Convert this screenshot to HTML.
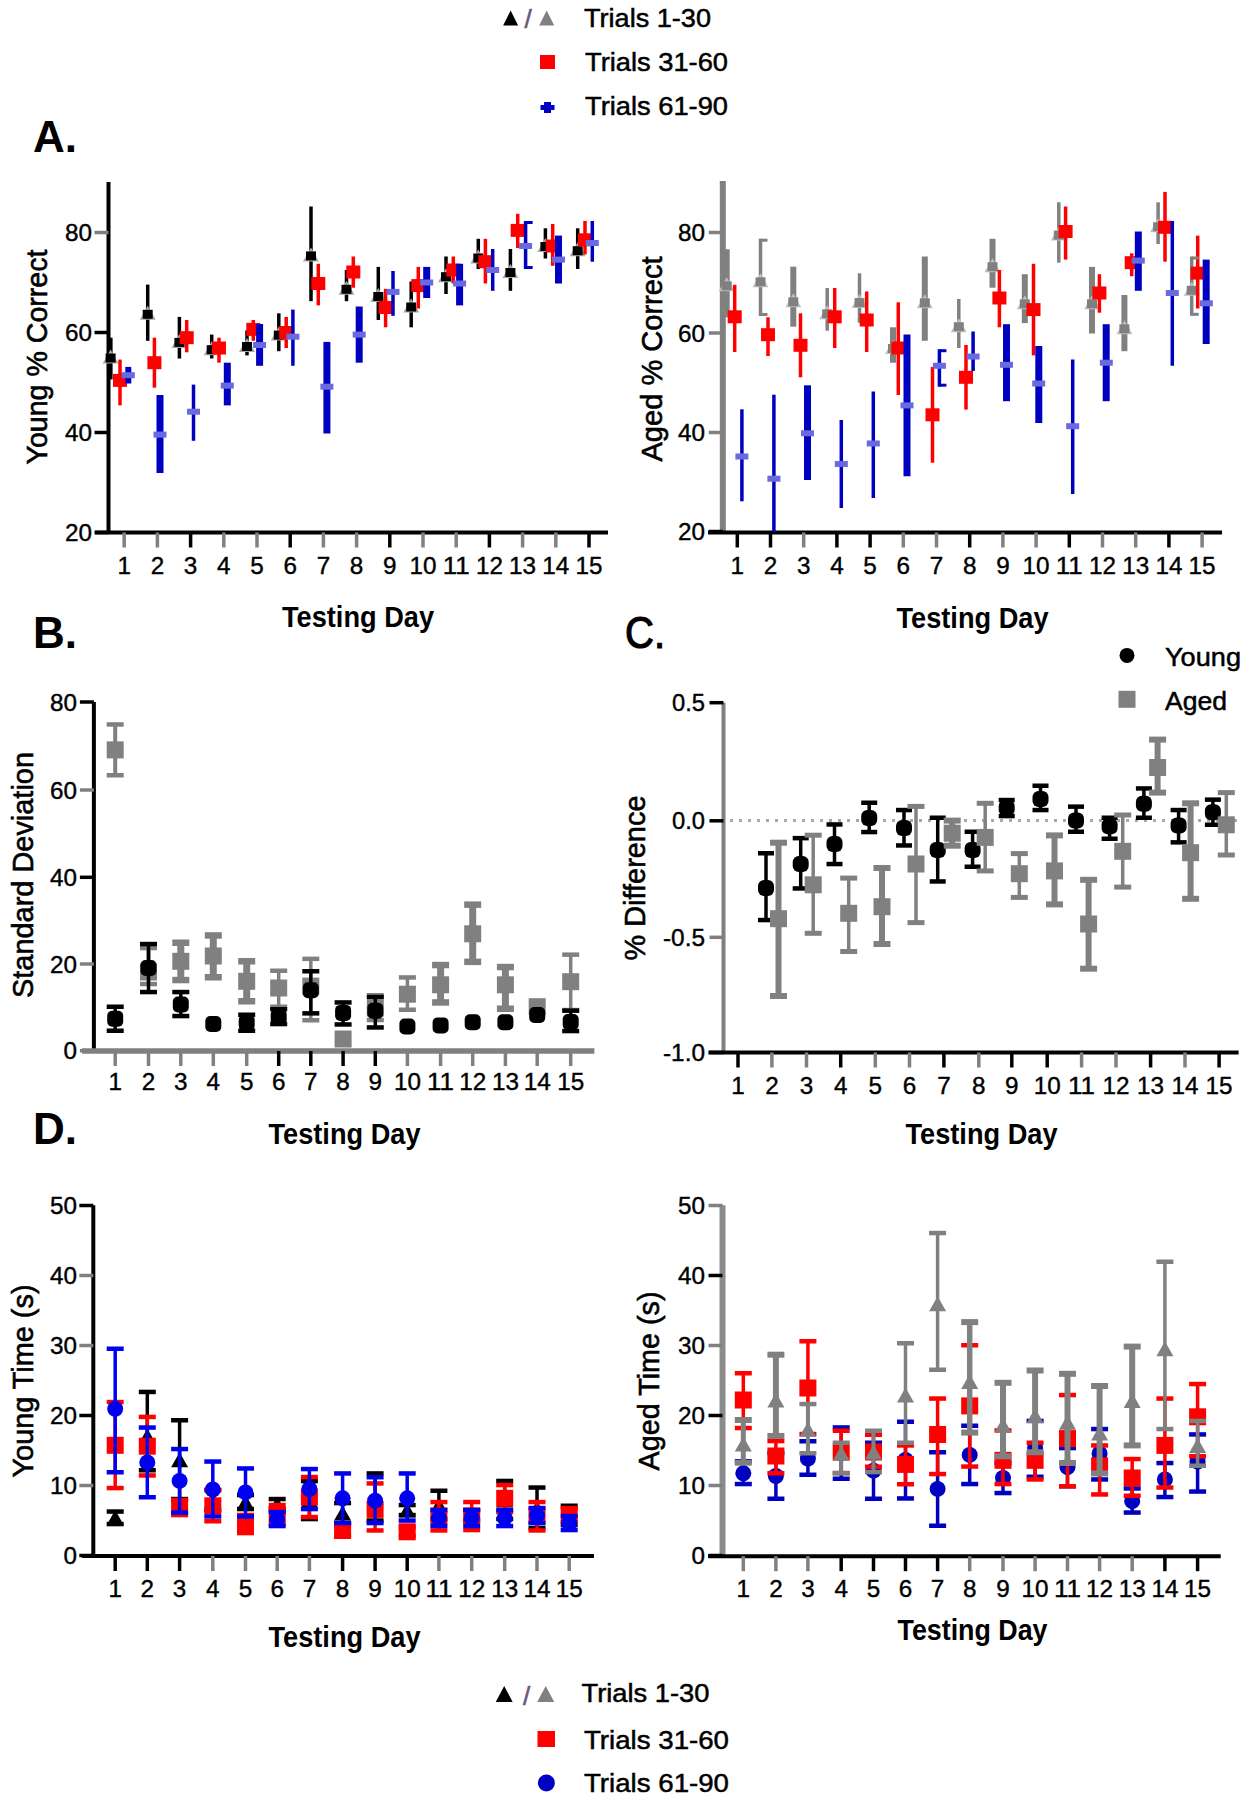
<!DOCTYPE html><html><head><meta charset="utf-8"><style>html,body{margin:0;padding:0;background:#fff;width:1249px;height:1800px;overflow:hidden}</style></head><body><svg width="1249" height="1800" viewBox="0 0 1249 1800" style="display:block">
<g font-family="Liberation Sans, sans-serif">
<rect x="0.0" y="0.0" width="1249.0" height="1800.0" fill="#fff"/>
<polygon points="503.1,25.5 518.1,25.5 510.6,10.5" fill="#000"/>
<text x="528.0" y="28.0" font-size="26" font-weight="normal" text-anchor="middle" fill="#6a5a7a" stroke="#6a5a7a" stroke-width="0.6">/</text>
<polygon points="539.2,25.5 554.2,25.5 546.7,10.5" fill="#808080"/>
<text x="584.0" y="27.0" font-size="26" font-weight="normal" text-anchor="start" fill="#000" textLength="127" lengthAdjust="spacingAndGlyphs" stroke="#000" stroke-width="0.5">Trials 1-30</text>
<rect x="540.0" y="55.0" width="15.0" height="14.0" fill="#ff0000"/>
<text x="585.0" y="71.0" font-size="26" font-weight="normal" text-anchor="start" fill="#000" textLength="143" lengthAdjust="spacingAndGlyphs" stroke="#000" stroke-width="0.5">Trials 31-60</text>
<rect x="540.5" y="105.0" width="14.0" height="5.0" fill="#0000c0"/>
<rect x="544.0" y="102.0" width="7.0" height="11.0" fill="#0000c0"/>
<text x="585.0" y="115.0" font-size="26" font-weight="normal" text-anchor="start" fill="#000" textLength="143" lengthAdjust="spacingAndGlyphs" stroke="#000" stroke-width="0.5">Trials 61-90</text>
<text x="33.0" y="152.0" font-size="44" font-weight="bold" text-anchor="start" fill="#000" >A.</text>
<text x="33.0" y="648.0" font-size="44" font-weight="bold" text-anchor="start" fill="#000" >B.</text>
<text x="625.0" y="648.0" font-size="44" font-weight="normal" text-anchor="start" fill="#000" textLength="40" lengthAdjust="spacingAndGlyphs" stroke="#000" stroke-width="1.2">C.</text>
<text x="33.0" y="1144.0" font-size="44" font-weight="bold" text-anchor="start" fill="#000" >D.</text>
<line x1="108.5" y1="182.0" x2="108.5" y2="534.0" stroke="#000" stroke-width="4"/>
<line x1="94.5" y1="232.5" x2="108.5" y2="232.5" stroke="#808080" stroke-width="3.5"/>
<text x="92.0" y="241.0" font-size="24" font-weight="normal" text-anchor="end" fill="#000" textLength="27" lengthAdjust="spacingAndGlyphs" stroke="#000" stroke-width="0.4">80</text>
<line x1="94.5" y1="332.5" x2="108.5" y2="332.5" stroke="#000" stroke-width="3.5"/>
<text x="92.0" y="341.0" font-size="24" font-weight="normal" text-anchor="end" fill="#000" textLength="27" lengthAdjust="spacingAndGlyphs" stroke="#000" stroke-width="0.4">60</text>
<line x1="94.5" y1="432.5" x2="108.5" y2="432.5" stroke="#000" stroke-width="3.5"/>
<text x="92.0" y="441.0" font-size="24" font-weight="normal" text-anchor="end" fill="#000" textLength="27" lengthAdjust="spacingAndGlyphs" stroke="#000" stroke-width="0.4">40</text>
<line x1="94.5" y1="532.5" x2="108.5" y2="532.5" stroke="#000" stroke-width="3.5"/>
<text x="92.0" y="541.0" font-size="24" font-weight="normal" text-anchor="end" fill="#000" textLength="27" lengthAdjust="spacingAndGlyphs" stroke="#000" stroke-width="0.4">20</text>
<line x1="95.0" y1="532.5" x2="608.0" y2="532.5" stroke="#000" stroke-width="4"/>
<line x1="124.2" y1="532.5" x2="124.2" y2="547.5" stroke="#808080" stroke-width="3.5"/>
<text x="124.2" y="574.0" font-size="24" font-weight="normal" text-anchor="middle" fill="#000" textLength="13.5" lengthAdjust="spacingAndGlyphs" stroke="#000" stroke-width="0.4">1</text>
<line x1="157.4" y1="532.5" x2="157.4" y2="547.5" stroke="#808080" stroke-width="3.5"/>
<text x="157.4" y="574.0" font-size="24" font-weight="normal" text-anchor="middle" fill="#000" textLength="13.5" lengthAdjust="spacingAndGlyphs" stroke="#000" stroke-width="0.4">2</text>
<line x1="190.6" y1="532.5" x2="190.6" y2="547.5" stroke="#000" stroke-width="3.5"/>
<text x="190.6" y="574.0" font-size="24" font-weight="normal" text-anchor="middle" fill="#000" textLength="13.5" lengthAdjust="spacingAndGlyphs" stroke="#000" stroke-width="0.4">3</text>
<line x1="223.8" y1="532.5" x2="223.8" y2="547.5" stroke="#808080" stroke-width="3.5"/>
<text x="223.8" y="574.0" font-size="24" font-weight="normal" text-anchor="middle" fill="#000" textLength="13.5" lengthAdjust="spacingAndGlyphs" stroke="#000" stroke-width="0.4">4</text>
<line x1="257.0" y1="532.5" x2="257.0" y2="547.5" stroke="#808080" stroke-width="3.5"/>
<text x="257.0" y="574.0" font-size="24" font-weight="normal" text-anchor="middle" fill="#000" textLength="13.5" lengthAdjust="spacingAndGlyphs" stroke="#000" stroke-width="0.4">5</text>
<line x1="290.2" y1="532.5" x2="290.2" y2="547.5" stroke="#000" stroke-width="3.5"/>
<text x="290.2" y="574.0" font-size="24" font-weight="normal" text-anchor="middle" fill="#000" textLength="13.5" lengthAdjust="spacingAndGlyphs" stroke="#000" stroke-width="0.4">6</text>
<line x1="323.4" y1="532.5" x2="323.4" y2="547.5" stroke="#808080" stroke-width="3.5"/>
<text x="323.4" y="574.0" font-size="24" font-weight="normal" text-anchor="middle" fill="#000" textLength="13.5" lengthAdjust="spacingAndGlyphs" stroke="#000" stroke-width="0.4">7</text>
<line x1="356.6" y1="532.5" x2="356.6" y2="547.5" stroke="#808080" stroke-width="3.5"/>
<text x="356.6" y="574.0" font-size="24" font-weight="normal" text-anchor="middle" fill="#000" textLength="13.5" lengthAdjust="spacingAndGlyphs" stroke="#000" stroke-width="0.4">8</text>
<line x1="389.8" y1="532.5" x2="389.8" y2="547.5" stroke="#000" stroke-width="3.5"/>
<text x="389.8" y="574.0" font-size="24" font-weight="normal" text-anchor="middle" fill="#000" textLength="13.5" lengthAdjust="spacingAndGlyphs" stroke="#000" stroke-width="0.4">9</text>
<line x1="423.0" y1="532.5" x2="423.0" y2="547.5" stroke="#808080" stroke-width="3.5"/>
<text x="423.0" y="574.0" font-size="24" font-weight="normal" text-anchor="middle" fill="#000" textLength="27" lengthAdjust="spacingAndGlyphs" stroke="#000" stroke-width="0.4">10</text>
<line x1="456.2" y1="532.5" x2="456.2" y2="547.5" stroke="#808080" stroke-width="3.5"/>
<text x="456.2" y="574.0" font-size="24" font-weight="normal" text-anchor="middle" fill="#000" textLength="27" lengthAdjust="spacingAndGlyphs" stroke="#000" stroke-width="0.4">11</text>
<line x1="489.4" y1="532.5" x2="489.4" y2="547.5" stroke="#000" stroke-width="3.5"/>
<text x="489.4" y="574.0" font-size="24" font-weight="normal" text-anchor="middle" fill="#000" textLength="27" lengthAdjust="spacingAndGlyphs" stroke="#000" stroke-width="0.4">12</text>
<line x1="522.6" y1="532.5" x2="522.6" y2="547.5" stroke="#808080" stroke-width="3.5"/>
<text x="522.6" y="574.0" font-size="24" font-weight="normal" text-anchor="middle" fill="#000" textLength="27" lengthAdjust="spacingAndGlyphs" stroke="#000" stroke-width="0.4">13</text>
<line x1="555.8" y1="532.5" x2="555.8" y2="547.5" stroke="#808080" stroke-width="3.5"/>
<text x="555.8" y="574.0" font-size="24" font-weight="normal" text-anchor="middle" fill="#000" textLength="27" lengthAdjust="spacingAndGlyphs" stroke="#000" stroke-width="0.4">14</text>
<line x1="589.0" y1="532.5" x2="589.0" y2="547.5" stroke="#000" stroke-width="3.5"/>
<text x="589.0" y="574.0" font-size="24" font-weight="normal" text-anchor="middle" fill="#000" textLength="27" lengthAdjust="spacingAndGlyphs" stroke="#000" stroke-width="0.4">15</text>
<text x="47.0" y="357.0" font-size="29" font-weight="normal" stroke="#000" stroke-width="0.6" text-anchor="middle" textLength="215" lengthAdjust="spacingAndGlyphs" transform="rotate(-90 47.0 357.0)">Young % Correct</text>
<text x="358.0" y="627.0" font-size="29" font-weight="bold" text-anchor="middle" fill="#000" textLength="152" lengthAdjust="spacingAndGlyphs" >Testing Day</text>
<line x1="110.6" y1="337.7" x2="110.6" y2="379.4" stroke="#000" stroke-width="4"/>
<line x1="147.7" y1="284.6" x2="147.7" y2="340.8" stroke="#000" stroke-width="3.5"/>
<line x1="179.4" y1="316.9" x2="179.4" y2="358.5" stroke="#000" stroke-width="3.5"/>
<line x1="211.7" y1="334.6" x2="211.7" y2="358.5" stroke="#000" stroke-width="3.5"/>
<line x1="247.0" y1="330.4" x2="247.0" y2="355.4" stroke="#000" stroke-width="3.5"/>
<line x1="278.8" y1="313.3" x2="278.8" y2="351.2" stroke="#000" stroke-width="3.5"/>
<line x1="311.0" y1="206.5" x2="311.0" y2="301.2" stroke="#000" stroke-width="3.5"/>
<line x1="346.5" y1="270.0" x2="346.5" y2="301.2" stroke="#000" stroke-width="3.5"/>
<line x1="378.3" y1="266.9" x2="378.3" y2="320.0" stroke="#000" stroke-width="3.5"/>
<line x1="411.2" y1="281.5" x2="411.2" y2="327.3" stroke="#000" stroke-width="3.5"/>
<line x1="446.0" y1="256.5" x2="446.0" y2="294.0" stroke="#000" stroke-width="3.5"/>
<line x1="478.3" y1="238.8" x2="478.3" y2="269.0" stroke="#000" stroke-width="3.5"/>
<line x1="510.4" y1="249.0" x2="510.4" y2="290.8" stroke="#000" stroke-width="3.5"/>
<line x1="545.4" y1="228.3" x2="545.4" y2="258.5" stroke="#000" stroke-width="3.5"/>
<line x1="577.7" y1="228.3" x2="577.7" y2="269.0" stroke="#000" stroke-width="3.5"/>
<polygon points="102.6,363.5 118.6,363.5 110.6,349.5" fill="#a8a8a8"/>
<rect x="105.6" y="353.5" width="10.0" height="9.0" fill="#000"/>
<polygon points="139.7,319.8 155.7,319.8 147.7,305.8" fill="#a8a8a8"/>
<rect x="142.7" y="309.8" width="10.0" height="9.0" fill="#000"/>
<polygon points="171.4,347.9 187.4,347.9 179.4,333.9" fill="#a8a8a8"/>
<rect x="174.4" y="337.9" width="10.0" height="9.0" fill="#000"/>
<polygon points="203.7,355.2 219.7,355.2 211.7,341.2" fill="#a8a8a8"/>
<rect x="206.7" y="345.2" width="10.0" height="9.0" fill="#000"/>
<polygon points="239.0,352.0 255.0,352.0 247.0,338.0" fill="#a8a8a8"/>
<rect x="242.0" y="342.0" width="10.0" height="9.0" fill="#000"/>
<polygon points="270.8,340.6 286.8,340.6 278.8,326.6" fill="#a8a8a8"/>
<rect x="273.8" y="330.6" width="10.0" height="9.0" fill="#000"/>
<polygon points="303.0,261.4 319.0,261.4 311.0,247.4" fill="#a8a8a8"/>
<rect x="306.0" y="251.4" width="10.0" height="9.0" fill="#000"/>
<polygon points="338.5,294.8 354.5,294.8 346.5,280.8" fill="#a8a8a8"/>
<rect x="341.5" y="284.8" width="10.0" height="9.0" fill="#000"/>
<polygon points="370.3,302.0 386.3,302.0 378.3,288.0" fill="#a8a8a8"/>
<rect x="373.3" y="292.0" width="10.0" height="9.0" fill="#000"/>
<polygon points="403.2,312.5 419.2,312.5 411.2,298.5" fill="#a8a8a8"/>
<rect x="406.2" y="302.5" width="10.0" height="9.0" fill="#000"/>
<polygon points="438.0,282.2 454.0,282.2 446.0,268.2" fill="#a8a8a8"/>
<rect x="441.0" y="272.2" width="10.0" height="9.0" fill="#000"/>
<polygon points="470.3,263.5 486.3,263.5 478.3,249.5" fill="#a8a8a8"/>
<rect x="473.3" y="253.5" width="10.0" height="9.0" fill="#000"/>
<polygon points="502.4,278.0 518.4,278.0 510.4,264.0" fill="#a8a8a8"/>
<rect x="505.4" y="268.0" width="10.0" height="9.0" fill="#000"/>
<polygon points="537.4,252.0 553.4,252.0 545.4,238.0" fill="#a8a8a8"/>
<rect x="540.4" y="242.0" width="10.0" height="9.0" fill="#000"/>
<polygon points="569.7,256.2 585.7,256.2 577.7,242.2" fill="#a8a8a8"/>
<rect x="572.7" y="246.2" width="10.0" height="9.0" fill="#000"/>
<line x1="120.0" y1="359.6" x2="120.0" y2="405.4" stroke="#ff0000" stroke-width="3.5"/>
<line x1="154.4" y1="337.7" x2="154.4" y2="387.7" stroke="#ff0000" stroke-width="3.5"/>
<line x1="186.7" y1="320.0" x2="186.7" y2="352.3" stroke="#ff0000" stroke-width="3.5"/>
<line x1="219.0" y1="337.7" x2="219.0" y2="362.7" stroke="#ff0000" stroke-width="3.5"/>
<line x1="253.3" y1="320.0" x2="253.3" y2="340.8" stroke="#ff0000" stroke-width="3.5"/>
<line x1="286.2" y1="316.9" x2="286.2" y2="348.0" stroke="#ff0000" stroke-width="3.5"/>
<line x1="318.3" y1="263.8" x2="318.3" y2="305.4" stroke="#ff0000" stroke-width="3.5"/>
<line x1="353.3" y1="256.5" x2="353.3" y2="287.7" stroke="#ff0000" stroke-width="3.5"/>
<line x1="385.6" y1="288.8" x2="385.6" y2="327.3" stroke="#ff0000" stroke-width="3.5"/>
<line x1="418.3" y1="266.9" x2="418.3" y2="308.5" stroke="#ff0000" stroke-width="3.5"/>
<line x1="453.3" y1="256.5" x2="453.3" y2="283.5" stroke="#ff0000" stroke-width="3.5"/>
<line x1="485.4" y1="238.8" x2="485.4" y2="283.5" stroke="#ff0000" stroke-width="3.5"/>
<line x1="517.7" y1="213.8" x2="517.7" y2="248.0" stroke="#ff0000" stroke-width="3.5"/>
<line x1="552.7" y1="224.0" x2="552.7" y2="265.8" stroke="#ff0000" stroke-width="3.5"/>
<line x1="585.0" y1="221.0" x2="585.0" y2="254.4" stroke="#ff0000" stroke-width="3.5"/>
<rect x="113.0" y="373.9" width="14.0" height="13.0" fill="#ff0000"/>
<rect x="147.4" y="356.2" width="14.0" height="13.0" fill="#ff0000"/>
<rect x="179.7" y="331.2" width="14.0" height="13.0" fill="#ff0000"/>
<rect x="212.0" y="341.5" width="14.0" height="13.0" fill="#ff0000"/>
<rect x="246.3" y="322.9" width="14.0" height="13.0" fill="#ff0000"/>
<rect x="279.2" y="326.0" width="14.0" height="13.0" fill="#ff0000"/>
<rect x="311.3" y="277.0" width="14.0" height="13.0" fill="#ff0000"/>
<rect x="346.3" y="265.5" width="14.0" height="13.0" fill="#ff0000"/>
<rect x="378.6" y="301.0" width="14.0" height="13.0" fill="#ff0000"/>
<rect x="411.3" y="279.1" width="14.0" height="13.0" fill="#ff0000"/>
<rect x="446.3" y="263.5" width="14.0" height="13.0" fill="#ff0000"/>
<rect x="478.4" y="255.2" width="14.0" height="13.0" fill="#ff0000"/>
<rect x="510.7" y="223.9" width="14.0" height="13.0" fill="#ff0000"/>
<rect x="545.7" y="239.5" width="14.0" height="13.0" fill="#ff0000"/>
<rect x="578.0" y="233.3" width="14.0" height="13.0" fill="#ff0000"/>
<line x1="128.3" y1="366.9" x2="128.3" y2="383.5" stroke="#0000c0" stroke-width="6"/>
<line x1="160.0" y1="395.0" x2="160.0" y2="473.0" stroke="#0000c0" stroke-width="7"/>
<line x1="193.5" y1="384.6" x2="193.5" y2="440.8" stroke="#0000c0" stroke-width="3.5"/>
<line x1="227.3" y1="362.7" x2="227.3" y2="405.4" stroke="#0000c0" stroke-width="7"/>
<line x1="259.6" y1="324.0" x2="259.6" y2="365.8" stroke="#0000c0" stroke-width="7"/>
<line x1="292.9" y1="309.6" x2="292.9" y2="365.8" stroke="#0000c0" stroke-width="3.5"/>
<line x1="326.9" y1="341.9" x2="326.9" y2="433.5" stroke="#0000c0" stroke-width="7"/>
<line x1="359.2" y1="306.5" x2="359.2" y2="362.7" stroke="#0000c0" stroke-width="7"/>
<line x1="393.0" y1="271.0" x2="393.0" y2="315.8" stroke="#0000c0" stroke-width="3.5"/>
<line x1="426.7" y1="266.9" x2="426.7" y2="298.0" stroke="#0000c0" stroke-width="7"/>
<line x1="459.6" y1="263.8" x2="459.6" y2="305.4" stroke="#0000c0" stroke-width="7"/>
<line x1="492.7" y1="249.0" x2="492.7" y2="290.8" stroke="#0000c0" stroke-width="3.5"/>
<line x1="525.6" y1="221.0" x2="525.6" y2="269.0" stroke="#0000c0" stroke-width="3.5"/>
<line x1="558.5" y1="235.6" x2="558.5" y2="283.5" stroke="#0000c0" stroke-width="7"/>
<line x1="592.3" y1="221.0" x2="592.3" y2="261.7" stroke="#0000c0" stroke-width="3.5"/>
<rect x="121.8" y="372.2" width="13.0" height="6.0" fill="#6a6ae0"/>
<rect x="153.5" y="431.6" width="13.0" height="6.0" fill="#6a6ae0"/>
<rect x="187.0" y="408.7" width="13.0" height="6.0" fill="#6a6ae0"/>
<rect x="220.8" y="382.6" width="13.0" height="6.0" fill="#6a6ae0"/>
<rect x="253.1" y="342.0" width="13.0" height="6.0" fill="#6a6ae0"/>
<rect x="286.4" y="333.7" width="13.0" height="6.0" fill="#6a6ae0"/>
<rect x="320.4" y="383.7" width="13.0" height="6.0" fill="#6a6ae0"/>
<rect x="352.7" y="331.6" width="13.0" height="6.0" fill="#6a6ae0"/>
<rect x="386.5" y="288.9" width="13.0" height="6.0" fill="#6a6ae0"/>
<rect x="420.2" y="279.5" width="13.0" height="6.0" fill="#6a6ae0"/>
<rect x="453.1" y="280.5" width="13.0" height="6.0" fill="#6a6ae0"/>
<rect x="486.2" y="267.0" width="13.0" height="6.0" fill="#6a6ae0"/>
<rect x="519.1" y="243.0" width="13.0" height="6.0" fill="#6a6ae0"/>
<rect x="552.0" y="256.6" width="13.0" height="6.0" fill="#6a6ae0"/>
<rect x="585.8" y="240.0" width="13.0" height="6.0" fill="#6a6ae0"/>
<line x1="722.8" y1="181.0" x2="722.8" y2="534.0" stroke="#808080" stroke-width="6"/>
<line x1="708.8" y1="232.5" x2="722.8" y2="232.5" stroke="#808080" stroke-width="3.5"/>
<text x="705.0" y="241.0" font-size="24" font-weight="normal" text-anchor="end" fill="#000" textLength="27" lengthAdjust="spacingAndGlyphs" stroke="#000" stroke-width="0.4">80</text>
<line x1="708.8" y1="333.0" x2="722.8" y2="333.0" stroke="#808080" stroke-width="3.5"/>
<text x="705.0" y="341.5" font-size="24" font-weight="normal" text-anchor="end" fill="#000" textLength="27" lengthAdjust="spacingAndGlyphs" stroke="#000" stroke-width="0.4">60</text>
<line x1="708.8" y1="432.5" x2="722.8" y2="432.5" stroke="#808080" stroke-width="3.5"/>
<text x="705.0" y="441.0" font-size="24" font-weight="normal" text-anchor="end" fill="#000" textLength="27" lengthAdjust="spacingAndGlyphs" stroke="#000" stroke-width="0.4">40</text>
<line x1="708.8" y1="531.5" x2="722.8" y2="531.5" stroke="#000" stroke-width="3.5"/>
<text x="705.0" y="540.0" font-size="24" font-weight="normal" text-anchor="end" fill="#000" textLength="27" lengthAdjust="spacingAndGlyphs" stroke="#000" stroke-width="0.4">20</text>
<line x1="708.0" y1="532.5" x2="1222.0" y2="532.5" stroke="#000" stroke-width="4"/>
<line x1="737.3" y1="532.5" x2="737.3" y2="547.5" stroke="#000" stroke-width="3.5"/>
<text x="737.3" y="574.0" font-size="24" font-weight="normal" text-anchor="middle" fill="#000" textLength="13.5" lengthAdjust="spacingAndGlyphs" stroke="#000" stroke-width="0.4">1</text>
<line x1="770.5" y1="532.5" x2="770.5" y2="547.5" stroke="#000" stroke-width="3.5"/>
<text x="770.5" y="574.0" font-size="24" font-weight="normal" text-anchor="middle" fill="#000" textLength="13.5" lengthAdjust="spacingAndGlyphs" stroke="#000" stroke-width="0.4">2</text>
<line x1="803.7" y1="532.5" x2="803.7" y2="547.5" stroke="#808080" stroke-width="3.5"/>
<text x="803.7" y="574.0" font-size="24" font-weight="normal" text-anchor="middle" fill="#000" textLength="13.5" lengthAdjust="spacingAndGlyphs" stroke="#000" stroke-width="0.4">3</text>
<line x1="836.9" y1="532.5" x2="836.9" y2="547.5" stroke="#000" stroke-width="3.5"/>
<text x="836.9" y="574.0" font-size="24" font-weight="normal" text-anchor="middle" fill="#000" textLength="13.5" lengthAdjust="spacingAndGlyphs" stroke="#000" stroke-width="0.4">4</text>
<line x1="870.1" y1="532.5" x2="870.1" y2="547.5" stroke="#000" stroke-width="3.5"/>
<text x="870.1" y="574.0" font-size="24" font-weight="normal" text-anchor="middle" fill="#000" textLength="13.5" lengthAdjust="spacingAndGlyphs" stroke="#000" stroke-width="0.4">5</text>
<line x1="903.3" y1="532.5" x2="903.3" y2="547.5" stroke="#808080" stroke-width="3.5"/>
<text x="903.3" y="574.0" font-size="24" font-weight="normal" text-anchor="middle" fill="#000" textLength="13.5" lengthAdjust="spacingAndGlyphs" stroke="#000" stroke-width="0.4">6</text>
<line x1="936.5" y1="532.5" x2="936.5" y2="547.5" stroke="#808080" stroke-width="3.5"/>
<text x="936.5" y="574.0" font-size="24" font-weight="normal" text-anchor="middle" fill="#000" textLength="13.5" lengthAdjust="spacingAndGlyphs" stroke="#000" stroke-width="0.4">7</text>
<line x1="969.7" y1="532.5" x2="969.7" y2="547.5" stroke="#000" stroke-width="3.5"/>
<text x="969.7" y="574.0" font-size="24" font-weight="normal" text-anchor="middle" fill="#000" textLength="13.5" lengthAdjust="spacingAndGlyphs" stroke="#000" stroke-width="0.4">8</text>
<line x1="1002.9" y1="532.5" x2="1002.9" y2="547.5" stroke="#808080" stroke-width="3.5"/>
<text x="1002.9" y="574.0" font-size="24" font-weight="normal" text-anchor="middle" fill="#000" textLength="13.5" lengthAdjust="spacingAndGlyphs" stroke="#000" stroke-width="0.4">9</text>
<line x1="1036.1" y1="532.5" x2="1036.1" y2="547.5" stroke="#808080" stroke-width="3.5"/>
<text x="1036.1" y="574.0" font-size="24" font-weight="normal" text-anchor="middle" fill="#000" textLength="27" lengthAdjust="spacingAndGlyphs" stroke="#000" stroke-width="0.4">10</text>
<line x1="1069.3" y1="532.5" x2="1069.3" y2="547.5" stroke="#000" stroke-width="3.5"/>
<text x="1069.3" y="574.0" font-size="24" font-weight="normal" text-anchor="middle" fill="#000" textLength="27" lengthAdjust="spacingAndGlyphs" stroke="#000" stroke-width="0.4">11</text>
<line x1="1102.5" y1="532.5" x2="1102.5" y2="547.5" stroke="#808080" stroke-width="3.5"/>
<text x="1102.5" y="574.0" font-size="24" font-weight="normal" text-anchor="middle" fill="#000" textLength="27" lengthAdjust="spacingAndGlyphs" stroke="#000" stroke-width="0.4">12</text>
<line x1="1135.7" y1="532.5" x2="1135.7" y2="547.5" stroke="#808080" stroke-width="3.5"/>
<text x="1135.7" y="574.0" font-size="24" font-weight="normal" text-anchor="middle" fill="#000" textLength="27" lengthAdjust="spacingAndGlyphs" stroke="#000" stroke-width="0.4">13</text>
<line x1="1168.9" y1="532.5" x2="1168.9" y2="547.5" stroke="#000" stroke-width="3.5"/>
<text x="1168.9" y="574.0" font-size="24" font-weight="normal" text-anchor="middle" fill="#000" textLength="27" lengthAdjust="spacingAndGlyphs" stroke="#000" stroke-width="0.4">14</text>
<line x1="1202.1" y1="532.5" x2="1202.1" y2="547.5" stroke="#808080" stroke-width="3.5"/>
<text x="1202.1" y="574.0" font-size="24" font-weight="normal" text-anchor="middle" fill="#000" textLength="27" lengthAdjust="spacingAndGlyphs" stroke="#000" stroke-width="0.4">15</text>
<text x="662.0" y="359.0" font-size="29" font-weight="normal" stroke="#000" stroke-width="0.6" text-anchor="middle" textLength="205" lengthAdjust="spacingAndGlyphs" transform="rotate(-90 662.0 359.0)">Aged % Correct</text>
<text x="972.5" y="627.5" font-size="29" font-weight="bold" text-anchor="middle" fill="#000" textLength="152" lengthAdjust="spacingAndGlyphs" >Testing Day</text>
<line x1="726.7" y1="249.3" x2="726.7" y2="317.3" stroke="#808080" stroke-width="6"/>
<line x1="760.5" y1="238.7" x2="760.5" y2="316.0" stroke="#808080" stroke-width="3.5"/>
<line x1="793.3" y1="266.7" x2="793.3" y2="326.7" stroke="#808080" stroke-width="6"/>
<line x1="827.2" y1="288.0" x2="827.2" y2="330.7" stroke="#808080" stroke-width="3.5"/>
<line x1="859.5" y1="273.3" x2="859.5" y2="322.7" stroke="#808080" stroke-width="3.5"/>
<line x1="893.0" y1="327.3" x2="893.0" y2="362.7" stroke="#808080" stroke-width="6"/>
<line x1="924.8" y1="256.5" x2="924.8" y2="340.8" stroke="#808080" stroke-width="6"/>
<line x1="958.8" y1="299.0" x2="958.8" y2="348.0" stroke="#808080" stroke-width="3.5"/>
<line x1="992.5" y1="238.8" x2="992.5" y2="287.7" stroke="#808080" stroke-width="6"/>
<line x1="1024.8" y1="274.2" x2="1024.8" y2="323.1" stroke="#808080" stroke-width="6"/>
<line x1="1058.8" y1="202.3" x2="1058.8" y2="262.7" stroke="#808080" stroke-width="3.5"/>
<line x1="1092.0" y1="266.9" x2="1092.0" y2="333.5" stroke="#808080" stroke-width="6"/>
<line x1="1124.4" y1="295.0" x2="1124.4" y2="351.2" stroke="#808080" stroke-width="6"/>
<line x1="1158.1" y1="202.3" x2="1158.1" y2="244.0" stroke="#808080" stroke-width="3.5"/>
<line x1="1191.7" y1="256.5" x2="1191.7" y2="315.8" stroke="#808080" stroke-width="3.5"/>
<polygon points="718.7,291.3 734.7,291.3 726.7,277.3" fill="#c0c0c0"/>
<rect x="721.7" y="281.3" width="10.0" height="9.0" fill="#808080"/>
<polygon points="752.5,287.3 768.5,287.3 760.5,273.3" fill="#c0c0c0"/>
<rect x="755.5" y="277.3" width="10.0" height="9.0" fill="#808080"/>
<polygon points="785.3,307.3 801.3,307.3 793.3,293.3" fill="#c0c0c0"/>
<rect x="788.3" y="297.3" width="10.0" height="9.0" fill="#808080"/>
<polygon points="819.2,319.3 835.2,319.3 827.2,305.3" fill="#c0c0c0"/>
<rect x="822.2" y="309.3" width="10.0" height="9.0" fill="#808080"/>
<polygon points="851.5,308.1 867.5,308.1 859.5,294.1" fill="#c0c0c0"/>
<rect x="854.5" y="298.1" width="10.0" height="9.0" fill="#808080"/>
<polygon points="885.0,354.0 901.0,354.0 893.0,340.0" fill="#c0c0c0"/>
<rect x="888.0" y="344.0" width="10.0" height="9.0" fill="#808080"/>
<polygon points="916.8,308.3 932.8,308.3 924.8,294.3" fill="#c0c0c0"/>
<rect x="919.8" y="298.3" width="10.0" height="9.0" fill="#808080"/>
<polygon points="950.8,332.2 966.8,332.2 958.8,318.2" fill="#c0c0c0"/>
<rect x="953.8" y="322.2" width="10.0" height="9.0" fill="#808080"/>
<polygon points="984.5,272.2 1000.5,272.2 992.5,258.2" fill="#c0c0c0"/>
<rect x="987.5" y="262.2" width="10.0" height="9.0" fill="#808080"/>
<polygon points="1016.8,309.3 1032.8,309.3 1024.8,295.3" fill="#c0c0c0"/>
<rect x="1019.8" y="299.3" width="10.0" height="9.0" fill="#808080"/>
<polygon points="1050.8,240.6 1066.8,240.6 1058.8,226.6" fill="#c0c0c0"/>
<rect x="1053.8" y="230.6" width="10.0" height="9.0" fill="#808080"/>
<polygon points="1084.0,309.3 1100.0,309.3 1092.0,295.3" fill="#c0c0c0"/>
<rect x="1087.0" y="299.3" width="10.0" height="9.0" fill="#808080"/>
<polygon points="1116.4,334.3 1132.4,334.3 1124.4,320.3" fill="#c0c0c0"/>
<rect x="1119.4" y="324.3" width="10.0" height="9.0" fill="#808080"/>
<polygon points="1150.1,232.2 1166.1,232.2 1158.1,218.2" fill="#c0c0c0"/>
<rect x="1153.1" y="222.2" width="10.0" height="9.0" fill="#808080"/>
<polygon points="1183.7,295.8 1199.7,295.8 1191.7,281.8" fill="#c0c0c0"/>
<rect x="1186.7" y="285.8" width="10.0" height="9.0" fill="#808080"/>
<line x1="734.7" y1="284.8" x2="734.7" y2="352.0" stroke="#ff0000" stroke-width="3.5"/>
<line x1="768.0" y1="317.3" x2="768.0" y2="356.0" stroke="#ff0000" stroke-width="3.5"/>
<line x1="800.5" y1="313.3" x2="800.5" y2="377.3" stroke="#ff0000" stroke-width="3.5"/>
<line x1="834.7" y1="288.0" x2="834.7" y2="348.0" stroke="#ff0000" stroke-width="3.5"/>
<line x1="866.7" y1="291.5" x2="866.7" y2="352.0" stroke="#ff0000" stroke-width="3.5"/>
<line x1="898.3" y1="302.3" x2="898.3" y2="395.0" stroke="#ff0000" stroke-width="3.5"/>
<line x1="932.5" y1="366.9" x2="932.5" y2="462.7" stroke="#ff0000" stroke-width="3.5"/>
<line x1="966.0" y1="345.0" x2="966.0" y2="409.6" stroke="#ff0000" stroke-width="3.5"/>
<line x1="999.4" y1="270.0" x2="999.4" y2="327.3" stroke="#ff0000" stroke-width="3.5"/>
<line x1="1033.5" y1="263.8" x2="1033.5" y2="355.4" stroke="#ff0000" stroke-width="3.5"/>
<line x1="1065.6" y1="206.5" x2="1065.6" y2="259.6" stroke="#ff0000" stroke-width="3.5"/>
<line x1="1099.4" y1="274.2" x2="1099.4" y2="312.7" stroke="#ff0000" stroke-width="3.5"/>
<line x1="1131.7" y1="253.3" x2="1131.7" y2="276.2" stroke="#ff0000" stroke-width="3.5"/>
<line x1="1165.0" y1="191.9" x2="1165.0" y2="261.7" stroke="#ff0000" stroke-width="3.5"/>
<line x1="1197.7" y1="235.6" x2="1197.7" y2="308.5" stroke="#ff0000" stroke-width="3.5"/>
<rect x="727.7" y="310.3" width="14.0" height="13.0" fill="#ff0000"/>
<rect x="761.0" y="328.2" width="14.0" height="13.0" fill="#ff0000"/>
<rect x="793.5" y="338.8" width="14.0" height="13.0" fill="#ff0000"/>
<rect x="827.7" y="310.3" width="14.0" height="13.0" fill="#ff0000"/>
<rect x="859.7" y="313.5" width="14.0" height="13.0" fill="#ff0000"/>
<rect x="891.3" y="341.5" width="14.0" height="13.0" fill="#ff0000"/>
<rect x="925.5" y="408.3" width="14.0" height="13.0" fill="#ff0000"/>
<rect x="959.0" y="370.8" width="14.0" height="13.0" fill="#ff0000"/>
<rect x="992.4" y="291.5" width="14.0" height="13.0" fill="#ff0000"/>
<rect x="1026.5" y="303.1" width="14.0" height="13.0" fill="#ff0000"/>
<rect x="1058.6" y="225.0" width="14.0" height="13.0" fill="#ff0000"/>
<rect x="1092.4" y="286.5" width="14.0" height="13.0" fill="#ff0000"/>
<rect x="1124.7" y="256.2" width="14.0" height="13.0" fill="#ff0000"/>
<rect x="1158.0" y="220.8" width="14.0" height="13.0" fill="#ff0000"/>
<rect x="1190.7" y="266.6" width="14.0" height="13.0" fill="#ff0000"/>
<line x1="741.9" y1="409.3" x2="741.9" y2="501.3" stroke="#0000c0" stroke-width="3.5"/>
<line x1="773.9" y1="394.7" x2="773.9" y2="532.0" stroke="#0000c0" stroke-width="3.5"/>
<line x1="807.5" y1="385.3" x2="807.5" y2="480.0" stroke="#0000c0" stroke-width="7"/>
<line x1="841.3" y1="420.0" x2="841.3" y2="508.0" stroke="#0000c0" stroke-width="3.5"/>
<line x1="873.3" y1="391.5" x2="873.3" y2="498.0" stroke="#0000c0" stroke-width="3.5"/>
<line x1="907.0" y1="334.6" x2="907.0" y2="476.2" stroke="#0000c0" stroke-width="7"/>
<line x1="939.4" y1="349.2" x2="939.4" y2="386.7" stroke="#0000c0" stroke-width="3.5"/>
<line x1="973.1" y1="331.5" x2="973.1" y2="371.0" stroke="#0000c0" stroke-width="3.5"/>
<line x1="1006.5" y1="324.2" x2="1006.5" y2="401.2" stroke="#0000c0" stroke-width="7"/>
<line x1="1038.8" y1="346.0" x2="1038.8" y2="423.0" stroke="#0000c0" stroke-width="7"/>
<line x1="1072.7" y1="359.6" x2="1072.7" y2="494.0" stroke="#0000c0" stroke-width="3.5"/>
<line x1="1106.2" y1="324.2" x2="1106.2" y2="401.2" stroke="#0000c0" stroke-width="7"/>
<line x1="1138.3" y1="231.5" x2="1138.3" y2="290.8" stroke="#0000c0" stroke-width="7"/>
<line x1="1172.3" y1="221.0" x2="1172.3" y2="365.8" stroke="#0000c0" stroke-width="3.5"/>
<line x1="1206.2" y1="259.6" x2="1206.2" y2="344.0" stroke="#0000c0" stroke-width="7"/>
<rect x="735.4" y="453.5" width="13.0" height="6.0" fill="#6a6ae0"/>
<rect x="767.4" y="475.7" width="13.0" height="6.0" fill="#6a6ae0"/>
<rect x="801.0" y="430.3" width="13.0" height="6.0" fill="#6a6ae0"/>
<rect x="834.8" y="461.0" width="13.0" height="6.0" fill="#6a6ae0"/>
<rect x="866.8" y="440.5" width="13.0" height="6.0" fill="#6a6ae0"/>
<rect x="900.5" y="402.4" width="13.0" height="6.0" fill="#6a6ae0"/>
<rect x="932.9" y="362.8" width="13.0" height="6.0" fill="#6a6ae0"/>
<rect x="966.6" y="353.5" width="13.0" height="6.0" fill="#6a6ae0"/>
<rect x="1000.0" y="361.8" width="13.0" height="6.0" fill="#6a6ae0"/>
<rect x="1032.2" y="380.5" width="13.0" height="6.0" fill="#6a6ae0"/>
<rect x="1066.2" y="423.2" width="13.0" height="6.0" fill="#6a6ae0"/>
<rect x="1099.8" y="359.7" width="13.0" height="6.0" fill="#6a6ae0"/>
<rect x="1131.8" y="257.6" width="13.0" height="6.0" fill="#6a6ae0"/>
<rect x="1165.8" y="290.0" width="13.0" height="6.0" fill="#6a6ae0"/>
<rect x="1199.8" y="300.3" width="13.0" height="6.0" fill="#6a6ae0"/>
<line x1="760.5" y1="240.2" x2="767.5" y2="240.2" stroke="#808080" stroke-width="3"/>
<line x1="760.5" y1="314.5" x2="767.5" y2="314.5" stroke="#808080" stroke-width="3"/>
<line x1="1191.7" y1="258.0" x2="1198.7" y2="258.0" stroke="#808080" stroke-width="3"/>
<line x1="1191.7" y1="314.3" x2="1198.7" y2="314.3" stroke="#808080" stroke-width="3"/>
<line x1="939.4" y1="350.7" x2="946.4" y2="350.7" stroke="#0000c0" stroke-width="3"/>
<line x1="939.4" y1="385.2" x2="946.4" y2="385.2" stroke="#0000c0" stroke-width="3"/>
<line x1="525.6" y1="222.5" x2="532.6" y2="222.5" stroke="#0000c0" stroke-width="3"/>
<line x1="525.6" y1="267.5" x2="532.6" y2="267.5" stroke="#0000c0" stroke-width="3"/>
<line x1="93.9" y1="702.0" x2="93.9" y2="1052.0" stroke="#000" stroke-width="4"/>
<line x1="79.9" y1="702.0" x2="93.9" y2="702.0" stroke="#000" stroke-width="3.5"/>
<text x="77.0" y="710.5" font-size="24" font-weight="normal" text-anchor="end" fill="#000" textLength="27" lengthAdjust="spacingAndGlyphs" stroke="#000" stroke-width="0.4">80</text>
<line x1="79.9" y1="790.0" x2="93.9" y2="790.0" stroke="#808080" stroke-width="3.5"/>
<text x="77.0" y="798.5" font-size="24" font-weight="normal" text-anchor="end" fill="#000" textLength="27" lengthAdjust="spacingAndGlyphs" stroke="#000" stroke-width="0.4">60</text>
<line x1="79.9" y1="877.3" x2="93.9" y2="877.3" stroke="#000" stroke-width="3.5"/>
<text x="77.0" y="885.8" font-size="24" font-weight="normal" text-anchor="end" fill="#000" textLength="27" lengthAdjust="spacingAndGlyphs" stroke="#000" stroke-width="0.4">40</text>
<line x1="79.9" y1="964.0" x2="93.9" y2="964.0" stroke="#808080" stroke-width="3.5"/>
<text x="77.0" y="972.5" font-size="24" font-weight="normal" text-anchor="end" fill="#000" textLength="27" lengthAdjust="spacingAndGlyphs" stroke="#000" stroke-width="0.4">20</text>
<line x1="79.9" y1="1050.7" x2="93.9" y2="1050.7" stroke="#808080" stroke-width="3.5"/>
<text x="77.0" y="1059.2" font-size="24" font-weight="normal" text-anchor="end" fill="#000" textLength="13.5" lengthAdjust="spacingAndGlyphs" stroke="#000" stroke-width="0.4">0</text>
<line x1="82.0" y1="1051.0" x2="594.4" y2="1051.0" stroke="#808080" stroke-width="5.5"/>
<line x1="115.2" y1="1051.0" x2="115.2" y2="1066.0" stroke="#808080" stroke-width="3.5"/>
<text x="115.2" y="1090.0" font-size="24" font-weight="normal" text-anchor="middle" fill="#000" textLength="13.5" lengthAdjust="spacingAndGlyphs" stroke="#000" stroke-width="0.4">1</text>
<line x1="148.5" y1="1051.0" x2="148.5" y2="1066.0" stroke="#808080" stroke-width="3.5"/>
<text x="148.5" y="1090.0" font-size="24" font-weight="normal" text-anchor="middle" fill="#000" textLength="13.5" lengthAdjust="spacingAndGlyphs" stroke="#000" stroke-width="0.4">2</text>
<line x1="180.8" y1="1051.0" x2="180.8" y2="1066.0" stroke="#808080" stroke-width="3.5"/>
<text x="180.8" y="1090.0" font-size="24" font-weight="normal" text-anchor="middle" fill="#000" textLength="13.5" lengthAdjust="spacingAndGlyphs" stroke="#000" stroke-width="0.4">3</text>
<line x1="213.3" y1="1051.0" x2="213.3" y2="1066.0" stroke="#808080" stroke-width="3.5"/>
<text x="213.3" y="1090.0" font-size="24" font-weight="normal" text-anchor="middle" fill="#000" textLength="13.5" lengthAdjust="spacingAndGlyphs" stroke="#000" stroke-width="0.4">4</text>
<line x1="246.7" y1="1051.0" x2="246.7" y2="1066.0" stroke="#808080" stroke-width="3.5"/>
<text x="246.7" y="1090.0" font-size="24" font-weight="normal" text-anchor="middle" fill="#000" textLength="13.5" lengthAdjust="spacingAndGlyphs" stroke="#000" stroke-width="0.4">5</text>
<line x1="278.7" y1="1051.0" x2="278.7" y2="1066.0" stroke="#000" stroke-width="3.5"/>
<text x="278.7" y="1090.0" font-size="24" font-weight="normal" text-anchor="middle" fill="#000" textLength="13.5" lengthAdjust="spacingAndGlyphs" stroke="#000" stroke-width="0.4">6</text>
<line x1="310.8" y1="1051.0" x2="310.8" y2="1066.0" stroke="#000" stroke-width="3.5"/>
<text x="310.8" y="1090.0" font-size="24" font-weight="normal" text-anchor="middle" fill="#000" textLength="13.5" lengthAdjust="spacingAndGlyphs" stroke="#000" stroke-width="0.4">7</text>
<line x1="343.1" y1="1051.0" x2="343.1" y2="1066.0" stroke="#000" stroke-width="3.5"/>
<text x="343.1" y="1090.0" font-size="24" font-weight="normal" text-anchor="middle" fill="#000" textLength="13.5" lengthAdjust="spacingAndGlyphs" stroke="#000" stroke-width="0.4">8</text>
<line x1="375.3" y1="1051.0" x2="375.3" y2="1066.0" stroke="#000" stroke-width="3.5"/>
<text x="375.3" y="1090.0" font-size="24" font-weight="normal" text-anchor="middle" fill="#000" textLength="13.5" lengthAdjust="spacingAndGlyphs" stroke="#000" stroke-width="0.4">9</text>
<line x1="407.4" y1="1051.0" x2="407.4" y2="1066.0" stroke="#808080" stroke-width="3.5"/>
<text x="407.4" y="1090.0" font-size="24" font-weight="normal" text-anchor="middle" fill="#000" textLength="27" lengthAdjust="spacingAndGlyphs" stroke="#000" stroke-width="0.4">10</text>
<line x1="440.6" y1="1051.0" x2="440.6" y2="1066.0" stroke="#808080" stroke-width="3.5"/>
<text x="440.6" y="1090.0" font-size="24" font-weight="normal" text-anchor="middle" fill="#000" textLength="27" lengthAdjust="spacingAndGlyphs" stroke="#000" stroke-width="0.4">11</text>
<line x1="472.7" y1="1051.0" x2="472.7" y2="1066.0" stroke="#808080" stroke-width="3.5"/>
<text x="472.7" y="1090.0" font-size="24" font-weight="normal" text-anchor="middle" fill="#000" textLength="27" lengthAdjust="spacingAndGlyphs" stroke="#000" stroke-width="0.4">12</text>
<line x1="505.4" y1="1051.0" x2="505.4" y2="1066.0" stroke="#808080" stroke-width="3.5"/>
<text x="505.4" y="1090.0" font-size="24" font-weight="normal" text-anchor="middle" fill="#000" textLength="27" lengthAdjust="spacingAndGlyphs" stroke="#000" stroke-width="0.4">13</text>
<line x1="537.2" y1="1051.0" x2="537.2" y2="1066.0" stroke="#808080" stroke-width="3.5"/>
<text x="537.2" y="1090.0" font-size="24" font-weight="normal" text-anchor="middle" fill="#000" textLength="27" lengthAdjust="spacingAndGlyphs" stroke="#000" stroke-width="0.4">14</text>
<line x1="570.7" y1="1051.0" x2="570.7" y2="1066.0" stroke="#808080" stroke-width="3.5"/>
<text x="570.7" y="1090.0" font-size="24" font-weight="normal" text-anchor="middle" fill="#000" textLength="27" lengthAdjust="spacingAndGlyphs" stroke="#000" stroke-width="0.4">15</text>
<text x="33.0" y="875.0" font-size="29" font-weight="normal" stroke="#000" stroke-width="0.6" text-anchor="middle" textLength="246" lengthAdjust="spacingAndGlyphs" transform="rotate(-90 33.0 875.0)">Standard Deviation</text>
<text x="344.5" y="1144.0" font-size="29" font-weight="bold" text-anchor="middle" fill="#000" textLength="152" lengthAdjust="spacingAndGlyphs" >Testing Day</text>
<line x1="115.2" y1="724.5" x2="115.2" y2="775.2" stroke="#808080" stroke-width="4"/>
<rect x="106.7" y="722.2" width="17.0" height="4.5" fill="#808080"/>
<rect x="106.7" y="773.0" width="17.0" height="4.5" fill="#808080"/>
<rect x="106.7" y="741.4" width="17.0" height="17.0" fill="#808080"/>
<line x1="148.5" y1="948.0" x2="148.5" y2="984.0" stroke="#808080" stroke-width="4"/>
<rect x="140.0" y="945.8" width="17.0" height="4.5" fill="#808080"/>
<rect x="140.0" y="981.8" width="17.0" height="4.5" fill="#808080"/>
<rect x="140.0" y="963.5" width="17.0" height="17.0" fill="#808080"/>
<line x1="180.8" y1="942.7" x2="180.8" y2="980.0" stroke="#808080" stroke-width="7"/>
<rect x="172.3" y="939.5" width="17.0" height="6.5" fill="#808080"/>
<rect x="172.3" y="976.8" width="17.0" height="6.5" fill="#808080"/>
<rect x="172.3" y="952.8" width="17.0" height="17.0" fill="#808080"/>
<line x1="213.3" y1="935.5" x2="213.3" y2="977.3" stroke="#808080" stroke-width="7"/>
<rect x="204.8" y="932.2" width="17.0" height="6.5" fill="#808080"/>
<rect x="204.8" y="974.0" width="17.0" height="6.5" fill="#808080"/>
<rect x="204.8" y="947.5" width="17.0" height="17.0" fill="#808080"/>
<line x1="246.7" y1="961.3" x2="246.7" y2="1001.3" stroke="#808080" stroke-width="7"/>
<rect x="238.2" y="958.0" width="17.0" height="6.5" fill="#808080"/>
<rect x="238.2" y="998.0" width="17.0" height="6.5" fill="#808080"/>
<rect x="238.2" y="972.8" width="17.0" height="17.0" fill="#808080"/>
<line x1="278.7" y1="970.7" x2="278.7" y2="1006.7" stroke="#808080" stroke-width="3.5"/>
<rect x="270.2" y="968.5" width="17.0" height="4.5" fill="#808080"/>
<rect x="270.2" y="1004.5" width="17.0" height="4.5" fill="#808080"/>
<rect x="270.2" y="979.5" width="17.0" height="17.0" fill="#808080"/>
<line x1="310.8" y1="958.9" x2="310.8" y2="1020.2" stroke="#808080" stroke-width="3.5"/>
<rect x="302.3" y="956.6" width="17.0" height="4.5" fill="#808080"/>
<rect x="302.3" y="1018.0" width="17.0" height="4.5" fill="#808080"/>
<rect x="302.3" y="977.6" width="17.0" height="17.0" fill="#808080"/>
<rect x="334.6" y="1030.5" width="17.0" height="17.0" fill="#808080"/>
<line x1="375.3" y1="995.2" x2="375.3" y2="1020.0" stroke="#808080" stroke-width="4"/>
<rect x="366.8" y="993.0" width="17.0" height="4.5" fill="#808080"/>
<rect x="366.8" y="1017.8" width="17.0" height="4.5" fill="#808080"/>
<rect x="366.8" y="999.5" width="17.0" height="17.0" fill="#808080"/>
<line x1="407.4" y1="977.5" x2="407.4" y2="1009.8" stroke="#808080" stroke-width="3.5"/>
<rect x="398.9" y="975.2" width="17.0" height="4.5" fill="#808080"/>
<rect x="398.9" y="1007.5" width="17.0" height="4.5" fill="#808080"/>
<rect x="398.9" y="985.7" width="17.0" height="17.0" fill="#808080"/>
<line x1="440.6" y1="965.0" x2="440.6" y2="1002.5" stroke="#808080" stroke-width="7"/>
<rect x="432.1" y="961.8" width="17.0" height="6.5" fill="#808080"/>
<rect x="432.1" y="999.2" width="17.0" height="6.5" fill="#808080"/>
<rect x="432.1" y="976.3" width="17.0" height="17.0" fill="#808080"/>
<line x1="472.7" y1="904.6" x2="472.7" y2="961.9" stroke="#808080" stroke-width="7"/>
<rect x="464.2" y="901.4" width="17.0" height="6.5" fill="#808080"/>
<rect x="464.2" y="958.6" width="17.0" height="6.5" fill="#808080"/>
<rect x="464.2" y="925.3" width="17.0" height="17.0" fill="#808080"/>
<line x1="505.4" y1="967.0" x2="505.4" y2="1008.8" stroke="#808080" stroke-width="7"/>
<rect x="496.9" y="963.8" width="17.0" height="6.5" fill="#808080"/>
<rect x="496.9" y="1005.5" width="17.0" height="6.5" fill="#808080"/>
<rect x="496.9" y="976.3" width="17.0" height="17.0" fill="#808080"/>
<rect x="528.7" y="998.2" width="17.0" height="17.0" fill="#808080"/>
<line x1="570.7" y1="954.6" x2="570.7" y2="1010.0" stroke="#808080" stroke-width="3.5"/>
<rect x="562.2" y="952.4" width="17.0" height="4.5" fill="#808080"/>
<rect x="562.2" y="1007.8" width="17.0" height="4.5" fill="#808080"/>
<rect x="562.2" y="973.2" width="17.0" height="17.0" fill="#808080"/>
<line x1="115.2" y1="1006.7" x2="115.2" y2="1030.7" stroke="#000" stroke-width="3.5"/>
<rect x="106.7" y="1004.5" width="17.0" height="4.5" fill="#000"/>
<rect x="106.7" y="1028.5" width="17.0" height="4.5" fill="#000"/>
<rect x="107.2" y="1010.7" width="16" height="16" rx="5" fill="#000"/>
<line x1="148.5" y1="944.0" x2="148.5" y2="992.0" stroke="#000" stroke-width="3.5"/>
<rect x="140.0" y="941.8" width="17.0" height="4.5" fill="#000"/>
<rect x="140.0" y="989.8" width="17.0" height="4.5" fill="#000"/>
<rect x="140.5" y="960.0" width="16" height="16" rx="5" fill="#000"/>
<line x1="180.8" y1="992.0" x2="180.8" y2="1016.0" stroke="#000" stroke-width="3.5"/>
<rect x="172.3" y="989.8" width="17.0" height="4.5" fill="#000"/>
<rect x="172.3" y="1013.8" width="17.0" height="4.5" fill="#000"/>
<rect x="172.8" y="996.5" width="16" height="16" rx="5" fill="#000"/>
<rect x="205.3" y="1016.0" width="16" height="16" rx="5" fill="#000"/>
<line x1="246.7" y1="1014.7" x2="246.7" y2="1030.7" stroke="#000" stroke-width="3.5"/>
<rect x="238.2" y="1012.5" width="17.0" height="4.5" fill="#000"/>
<rect x="238.2" y="1028.5" width="17.0" height="4.5" fill="#000"/>
<rect x="238.7" y="1014.7" width="16" height="16" rx="5" fill="#000"/>
<line x1="278.7" y1="1009.3" x2="278.7" y2="1024.0" stroke="#000" stroke-width="3.5"/>
<rect x="270.2" y="1007.0" width="17.0" height="4.5" fill="#000"/>
<rect x="270.2" y="1021.8" width="17.0" height="4.5" fill="#000"/>
<rect x="270.7" y="1009.3" width="16" height="16" rx="5" fill="#000"/>
<line x1="310.8" y1="971.2" x2="310.8" y2="1013.4" stroke="#000" stroke-width="3.5"/>
<rect x="302.3" y="969.0" width="17.0" height="4.5" fill="#000"/>
<rect x="302.3" y="1011.1" width="17.0" height="4.5" fill="#000"/>
<rect x="302.8" y="982.2" width="16" height="16" rx="5" fill="#000"/>
<line x1="343.1" y1="1002.5" x2="343.1" y2="1024.4" stroke="#000" stroke-width="3.5"/>
<rect x="334.6" y="1000.2" width="17.0" height="4.5" fill="#000"/>
<rect x="334.6" y="1022.2" width="17.0" height="4.5" fill="#000"/>
<rect x="335.1" y="1004.9" width="16" height="16" rx="5" fill="#000"/>
<line x1="375.3" y1="997.0" x2="375.3" y2="1027.5" stroke="#000" stroke-width="3.5"/>
<rect x="366.8" y="994.8" width="17.0" height="4.5" fill="#000"/>
<rect x="366.8" y="1025.2" width="17.0" height="4.5" fill="#000"/>
<rect x="367.3" y="1002.8" width="16" height="16" rx="5" fill="#000"/>
<rect x="399.4" y="1018.5" width="16" height="16" rx="5" fill="#000"/>
<rect x="432.6" y="1017.4" width="16" height="16" rx="5" fill="#000"/>
<rect x="464.7" y="1014.3" width="16" height="16" rx="5" fill="#000"/>
<rect x="497.4" y="1014.3" width="16" height="16" rx="5" fill="#000"/>
<rect x="529.2" y="1007.0" width="16" height="16" rx="5" fill="#000"/>
<line x1="570.7" y1="1010.6" x2="570.7" y2="1031.0" stroke="#000" stroke-width="3.5"/>
<rect x="562.2" y="1008.4" width="17.0" height="4.5" fill="#000"/>
<rect x="562.2" y="1028.8" width="17.0" height="4.5" fill="#000"/>
<rect x="562.7" y="1014.0" width="16" height="16" rx="5" fill="#000"/>
<line x1="730" y1="820.5" x2="1240" y2="820.5" stroke="#a8a8a8" stroke-width="3" stroke-dasharray="3 6"/>
<line x1="723.5" y1="702.7" x2="723.5" y2="1054.0" stroke="#808080" stroke-width="4"/>
<line x1="709.5" y1="702.7" x2="723.5" y2="702.7" stroke="#000" stroke-width="3.5"/>
<text x="705.0" y="711.2" font-size="24" font-weight="normal" text-anchor="end" fill="#000" textLength="33" lengthAdjust="spacingAndGlyphs" stroke="#000" stroke-width="0.4">0.5</text>
<line x1="709.5" y1="820.8" x2="723.5" y2="820.8" stroke="#000" stroke-width="3.5"/>
<text x="705.0" y="829.3" font-size="24" font-weight="normal" text-anchor="end" fill="#000" textLength="33" lengthAdjust="spacingAndGlyphs" stroke="#000" stroke-width="0.4">0.0</text>
<line x1="709.5" y1="937.3" x2="723.5" y2="937.3" stroke="#808080" stroke-width="3.5"/>
<text x="705.0" y="945.8" font-size="24" font-weight="normal" text-anchor="end" fill="#000" textLength="42" lengthAdjust="spacingAndGlyphs" stroke="#000" stroke-width="0.4">-0.5</text>
<line x1="709.5" y1="1052.5" x2="723.5" y2="1052.5" stroke="#000" stroke-width="3.5"/>
<text x="705.0" y="1061.0" font-size="24" font-weight="normal" text-anchor="end" fill="#000" textLength="42" lengthAdjust="spacingAndGlyphs" stroke="#000" stroke-width="0.4">-1.0</text>
<line x1="708.4" y1="1052.5" x2="1238.6" y2="1052.5" stroke="#000" stroke-width="4"/>
<line x1="738.0" y1="1052.5" x2="738.0" y2="1067.5" stroke="#000" stroke-width="3.5"/>
<text x="738.0" y="1094.0" font-size="24" font-weight="normal" text-anchor="middle" fill="#000" textLength="13.5" lengthAdjust="spacingAndGlyphs" stroke="#000" stroke-width="0.4">1</text>
<line x1="771.9" y1="1052.5" x2="771.9" y2="1067.5" stroke="#808080" stroke-width="3.5"/>
<text x="771.9" y="1094.0" font-size="24" font-weight="normal" text-anchor="middle" fill="#000" textLength="13.5" lengthAdjust="spacingAndGlyphs" stroke="#000" stroke-width="0.4">2</text>
<line x1="806.5" y1="1052.5" x2="806.5" y2="1067.5" stroke="#808080" stroke-width="3.5"/>
<text x="806.5" y="1094.0" font-size="24" font-weight="normal" text-anchor="middle" fill="#000" textLength="13.5" lengthAdjust="spacingAndGlyphs" stroke="#000" stroke-width="0.4">3</text>
<line x1="840.7" y1="1052.5" x2="840.7" y2="1067.5" stroke="#000" stroke-width="3.5"/>
<text x="840.7" y="1094.0" font-size="24" font-weight="normal" text-anchor="middle" fill="#000" textLength="13.5" lengthAdjust="spacingAndGlyphs" stroke="#000" stroke-width="0.4">4</text>
<line x1="875.3" y1="1052.5" x2="875.3" y2="1067.5" stroke="#808080" stroke-width="3.5"/>
<text x="875.3" y="1094.0" font-size="24" font-weight="normal" text-anchor="middle" fill="#000" textLength="13.5" lengthAdjust="spacingAndGlyphs" stroke="#000" stroke-width="0.4">5</text>
<line x1="909.5" y1="1052.5" x2="909.5" y2="1067.5" stroke="#808080" stroke-width="3.5"/>
<text x="909.5" y="1094.0" font-size="24" font-weight="normal" text-anchor="middle" fill="#000" textLength="13.5" lengthAdjust="spacingAndGlyphs" stroke="#000" stroke-width="0.4">6</text>
<line x1="943.9" y1="1052.5" x2="943.9" y2="1067.5" stroke="#000" stroke-width="3.5"/>
<text x="943.9" y="1094.0" font-size="24" font-weight="normal" text-anchor="middle" fill="#000" textLength="13.5" lengthAdjust="spacingAndGlyphs" stroke="#000" stroke-width="0.4">7</text>
<line x1="978.8" y1="1052.5" x2="978.8" y2="1067.5" stroke="#808080" stroke-width="3.5"/>
<text x="978.8" y="1094.0" font-size="24" font-weight="normal" text-anchor="middle" fill="#000" textLength="13.5" lengthAdjust="spacingAndGlyphs" stroke="#000" stroke-width="0.4">8</text>
<line x1="1011.8" y1="1052.5" x2="1011.8" y2="1067.5" stroke="#000" stroke-width="3.5"/>
<text x="1011.8" y="1094.0" font-size="24" font-weight="normal" text-anchor="middle" fill="#000" textLength="13.5" lengthAdjust="spacingAndGlyphs" stroke="#000" stroke-width="0.4">9</text>
<line x1="1047.2" y1="1052.5" x2="1047.2" y2="1067.5" stroke="#000" stroke-width="3.5"/>
<text x="1047.2" y="1094.0" font-size="24" font-weight="normal" text-anchor="middle" fill="#000" textLength="27" lengthAdjust="spacingAndGlyphs" stroke="#000" stroke-width="0.4">10</text>
<line x1="1081.6" y1="1052.5" x2="1081.6" y2="1067.5" stroke="#808080" stroke-width="3.5"/>
<text x="1081.6" y="1094.0" font-size="24" font-weight="normal" text-anchor="middle" fill="#000" textLength="27" lengthAdjust="spacingAndGlyphs" stroke="#000" stroke-width="0.4">11</text>
<line x1="1116.0" y1="1052.5" x2="1116.0" y2="1067.5" stroke="#808080" stroke-width="3.5"/>
<text x="1116.0" y="1094.0" font-size="24" font-weight="normal" text-anchor="middle" fill="#000" textLength="27" lengthAdjust="spacingAndGlyphs" stroke="#000" stroke-width="0.4">12</text>
<line x1="1150.6" y1="1052.5" x2="1150.6" y2="1067.5" stroke="#000" stroke-width="3.5"/>
<text x="1150.6" y="1094.0" font-size="24" font-weight="normal" text-anchor="middle" fill="#000" textLength="27" lengthAdjust="spacingAndGlyphs" stroke="#000" stroke-width="0.4">13</text>
<line x1="1185.0" y1="1052.5" x2="1185.0" y2="1067.5" stroke="#808080" stroke-width="3.5"/>
<text x="1185.0" y="1094.0" font-size="24" font-weight="normal" text-anchor="middle" fill="#000" textLength="27" lengthAdjust="spacingAndGlyphs" stroke="#000" stroke-width="0.4">14</text>
<line x1="1219.1" y1="1052.5" x2="1219.1" y2="1067.5" stroke="#000" stroke-width="3.5"/>
<text x="1219.1" y="1094.0" font-size="24" font-weight="normal" text-anchor="middle" fill="#000" textLength="27" lengthAdjust="spacingAndGlyphs" stroke="#000" stroke-width="0.4">15</text>
<text x="645.0" y="878.0" font-size="29" font-weight="normal" stroke="#000" stroke-width="0.6" text-anchor="middle" textLength="165" lengthAdjust="spacingAndGlyphs" transform="rotate(-90 645.0 878.0)">% Difference</text>
<text x="981.5" y="1144.0" font-size="29" font-weight="bold" text-anchor="middle" fill="#000" textLength="152" lengthAdjust="spacingAndGlyphs" >Testing Day</text>
<line x1="766.0" y1="853.3" x2="766.0" y2="920.0" stroke="#000" stroke-width="3.5"/>
<rect x="758.0" y="851.0" width="16.0" height="4.5" fill="#000"/>
<rect x="758.0" y="917.8" width="16.0" height="4.5" fill="#000"/>
<rect x="758.0" y="880.0" width="16" height="16" rx="6" fill="#000"/>
<line x1="800.7" y1="838.1" x2="800.7" y2="888.5" stroke="#000" stroke-width="3.5"/>
<rect x="792.7" y="835.9" width="16.0" height="4.5" fill="#000"/>
<rect x="792.7" y="886.2" width="16.0" height="4.5" fill="#000"/>
<rect x="792.7" y="856.0" width="16" height="16" rx="6" fill="#000"/>
<line x1="834.5" y1="824.5" x2="834.5" y2="864.0" stroke="#000" stroke-width="3.5"/>
<rect x="826.5" y="822.2" width="16.0" height="4.5" fill="#000"/>
<rect x="826.5" y="861.8" width="16.0" height="4.5" fill="#000"/>
<rect x="826.5" y="836.0" width="16" height="16" rx="6" fill="#000"/>
<line x1="869.2" y1="802.7" x2="869.2" y2="832.0" stroke="#000" stroke-width="3.5"/>
<rect x="861.2" y="800.5" width="16.0" height="4.5" fill="#000"/>
<rect x="861.2" y="829.8" width="16.0" height="4.5" fill="#000"/>
<rect x="861.2" y="810.1" width="16" height="16" rx="6" fill="#000"/>
<line x1="904.0" y1="810.0" x2="904.0" y2="845.5" stroke="#000" stroke-width="3.5"/>
<rect x="896.0" y="807.8" width="16.0" height="4.5" fill="#000"/>
<rect x="896.0" y="843.2" width="16.0" height="4.5" fill="#000"/>
<rect x="896.0" y="820.0" width="16" height="16" rx="6" fill="#000"/>
<line x1="937.7" y1="817.8" x2="937.7" y2="881.5" stroke="#000" stroke-width="3.5"/>
<rect x="929.7" y="815.5" width="16.0" height="4.5" fill="#000"/>
<rect x="929.7" y="879.2" width="16.0" height="4.5" fill="#000"/>
<rect x="929.7" y="841.9" width="16" height="16" rx="6" fill="#000"/>
<line x1="972.6" y1="831.8" x2="972.6" y2="866.7" stroke="#000" stroke-width="3.5"/>
<rect x="964.6" y="829.5" width="16.0" height="4.5" fill="#000"/>
<rect x="964.6" y="864.5" width="16.0" height="4.5" fill="#000"/>
<rect x="964.6" y="841.9" width="16" height="16" rx="6" fill="#000"/>
<line x1="1006.7" y1="800.0" x2="1006.7" y2="816.0" stroke="#000" stroke-width="3.5"/>
<rect x="998.7" y="797.8" width="16.0" height="4.5" fill="#000"/>
<rect x="998.7" y="813.8" width="16.0" height="4.5" fill="#000"/>
<rect x="998.7" y="800.0" width="16" height="16" rx="6" fill="#000"/>
<line x1="1040.5" y1="785.7" x2="1040.5" y2="810.0" stroke="#000" stroke-width="3.5"/>
<rect x="1032.5" y="783.5" width="16.0" height="4.5" fill="#000"/>
<rect x="1032.5" y="807.8" width="16.0" height="4.5" fill="#000"/>
<rect x="1032.5" y="791.1" width="16" height="16" rx="6" fill="#000"/>
<line x1="1076.0" y1="806.6" x2="1076.0" y2="831.8" stroke="#000" stroke-width="3.5"/>
<rect x="1068.0" y="804.4" width="16.0" height="4.5" fill="#000"/>
<rect x="1068.0" y="829.5" width="16.0" height="4.5" fill="#000"/>
<rect x="1068.0" y="812.6" width="16" height="16" rx="6" fill="#000"/>
<line x1="1109.6" y1="817.8" x2="1109.6" y2="838.7" stroke="#000" stroke-width="3.5"/>
<rect x="1101.6" y="815.5" width="16.0" height="4.5" fill="#000"/>
<rect x="1101.6" y="836.5" width="16.0" height="4.5" fill="#000"/>
<rect x="1101.6" y="818.2" width="16" height="16" rx="6" fill="#000"/>
<line x1="1143.9" y1="788.5" x2="1143.9" y2="817.8" stroke="#000" stroke-width="3.5"/>
<rect x="1135.9" y="786.2" width="16.0" height="4.5" fill="#000"/>
<rect x="1135.9" y="815.5" width="16.0" height="4.5" fill="#000"/>
<rect x="1135.9" y="795.8" width="16" height="16" rx="6" fill="#000"/>
<line x1="1178.6" y1="810.0" x2="1178.6" y2="842.4" stroke="#000" stroke-width="3.5"/>
<rect x="1170.6" y="807.8" width="16.0" height="4.5" fill="#000"/>
<rect x="1170.6" y="840.1" width="16.0" height="4.5" fill="#000"/>
<rect x="1170.6" y="817.6" width="16" height="16" rx="6" fill="#000"/>
<line x1="1212.9" y1="799.6" x2="1212.9" y2="824.8" stroke="#000" stroke-width="3.5"/>
<rect x="1204.9" y="797.4" width="16.0" height="4.5" fill="#000"/>
<rect x="1204.9" y="822.5" width="16.0" height="4.5" fill="#000"/>
<rect x="1204.9" y="804.2" width="16" height="16" rx="6" fill="#000"/>
<line x1="778.5" y1="842.7" x2="778.5" y2="996.0" stroke="#808080" stroke-width="6"/>
<rect x="770.0" y="839.7" width="17.0" height="6.0" fill="#808080"/>
<rect x="770.0" y="993.0" width="17.0" height="6.0" fill="#808080"/>
<rect x="770.0" y="910.2" width="17.0" height="17.0" fill="#808080"/>
<line x1="813.2" y1="835.2" x2="813.2" y2="933.3" stroke="#808080" stroke-width="3.5"/>
<rect x="804.7" y="832.7" width="17.0" height="5.0" fill="#808080"/>
<rect x="804.7" y="930.8" width="17.0" height="5.0" fill="#808080"/>
<rect x="804.7" y="876.3" width="17.0" height="17.0" fill="#808080"/>
<line x1="848.7" y1="878.1" x2="848.7" y2="951.5" stroke="#808080" stroke-width="3.5"/>
<rect x="840.2" y="875.6" width="17.0" height="5.0" fill="#808080"/>
<rect x="840.2" y="949.0" width="17.0" height="5.0" fill="#808080"/>
<rect x="840.2" y="904.8" width="17.0" height="17.0" fill="#808080"/>
<line x1="882.0" y1="868.0" x2="882.0" y2="944.0" stroke="#808080" stroke-width="6"/>
<rect x="873.5" y="865.0" width="17.0" height="6.0" fill="#808080"/>
<rect x="873.5" y="941.0" width="17.0" height="6.0" fill="#808080"/>
<rect x="873.5" y="898.2" width="17.0" height="17.0" fill="#808080"/>
<line x1="916.0" y1="806.4" x2="916.0" y2="922.6" stroke="#808080" stroke-width="3.5"/>
<rect x="907.5" y="803.9" width="17.0" height="5.0" fill="#808080"/>
<rect x="907.5" y="920.1" width="17.0" height="5.0" fill="#808080"/>
<rect x="907.5" y="855.5" width="17.0" height="17.0" fill="#808080"/>
<line x1="952.2" y1="820.6" x2="952.2" y2="845.7" stroke="#808080" stroke-width="6"/>
<rect x="943.7" y="817.6" width="17.0" height="6.0" fill="#808080"/>
<rect x="943.7" y="842.7" width="17.0" height="6.0" fill="#808080"/>
<rect x="943.7" y="824.7" width="17.0" height="17.0" fill="#808080"/>
<line x1="985.2" y1="803.3" x2="985.2" y2="870.9" stroke="#808080" stroke-width="3.5"/>
<rect x="976.7" y="800.8" width="17.0" height="5.0" fill="#808080"/>
<rect x="976.7" y="868.4" width="17.0" height="5.0" fill="#808080"/>
<rect x="976.7" y="828.9" width="17.0" height="17.0" fill="#808080"/>
<line x1="1019.3" y1="853.6" x2="1019.3" y2="897.4" stroke="#808080" stroke-width="3.5"/>
<rect x="1010.8" y="851.1" width="17.0" height="5.0" fill="#808080"/>
<rect x="1010.8" y="894.9" width="17.0" height="5.0" fill="#808080"/>
<rect x="1010.8" y="865.2" width="17.0" height="17.0" fill="#808080"/>
<line x1="1054.5" y1="835.4" x2="1054.5" y2="904.4" stroke="#808080" stroke-width="6"/>
<rect x="1046.0" y="832.4" width="17.0" height="6.0" fill="#808080"/>
<rect x="1046.0" y="901.4" width="17.0" height="6.0" fill="#808080"/>
<rect x="1046.0" y="862.4" width="17.0" height="17.0" fill="#808080"/>
<line x1="1088.6" y1="879.8" x2="1088.6" y2="968.7" stroke="#808080" stroke-width="6"/>
<rect x="1080.1" y="876.8" width="17.0" height="6.0" fill="#808080"/>
<rect x="1080.1" y="965.7" width="17.0" height="6.0" fill="#808080"/>
<rect x="1080.1" y="915.5" width="17.0" height="17.0" fill="#808080"/>
<line x1="1122.7" y1="815.0" x2="1122.7" y2="887.1" stroke="#808080" stroke-width="3.5"/>
<rect x="1114.2" y="812.5" width="17.0" height="5.0" fill="#808080"/>
<rect x="1114.2" y="884.6" width="17.0" height="5.0" fill="#808080"/>
<rect x="1114.2" y="842.8" width="17.0" height="17.0" fill="#808080"/>
<line x1="1157.6" y1="739.6" x2="1157.6" y2="792.6" stroke="#808080" stroke-width="6"/>
<rect x="1149.1" y="736.6" width="17.0" height="6.0" fill="#808080"/>
<rect x="1149.1" y="789.6" width="17.0" height="6.0" fill="#808080"/>
<rect x="1149.1" y="759.0" width="17.0" height="17.0" fill="#808080"/>
<line x1="1190.6" y1="803.3" x2="1190.6" y2="898.8" stroke="#808080" stroke-width="6"/>
<rect x="1182.1" y="800.3" width="17.0" height="6.0" fill="#808080"/>
<rect x="1182.1" y="895.8" width="17.0" height="6.0" fill="#808080"/>
<rect x="1182.1" y="844.2" width="17.0" height="17.0" fill="#808080"/>
<line x1="1226.3" y1="792.6" x2="1226.3" y2="855.0" stroke="#808080" stroke-width="3.5"/>
<rect x="1217.8" y="790.1" width="17.0" height="5.0" fill="#808080"/>
<rect x="1217.8" y="852.5" width="17.0" height="5.0" fill="#808080"/>
<rect x="1217.8" y="816.3" width="17.0" height="17.0" fill="#808080"/>
<circle cx="1127.0" cy="655.4" r="7.5" fill="#000"/>
<text x="1165.0" y="665.5" font-size="26" font-weight="normal" text-anchor="start" fill="#000" textLength="76" lengthAdjust="spacingAndGlyphs" stroke="#000" stroke-width="0.5">Young</text>
<rect x="1118.5" y="690.8" width="17.0" height="17.0" fill="#808080"/>
<text x="1165.0" y="709.5" font-size="26" font-weight="normal" text-anchor="start" fill="#000" textLength="62" lengthAdjust="spacingAndGlyphs" stroke="#000" stroke-width="0.5">Aged</text>
<line x1="93.3" y1="1205.3" x2="93.3" y2="1557.0" stroke="#000" stroke-width="4"/>
<line x1="79.3" y1="1205.5" x2="93.3" y2="1205.5" stroke="#000" stroke-width="3.5"/>
<text x="77.0" y="1214.0" font-size="24" font-weight="normal" text-anchor="end" fill="#000" textLength="27" lengthAdjust="spacingAndGlyphs" stroke="#000" stroke-width="0.4">50</text>
<line x1="79.3" y1="1275.5" x2="93.3" y2="1275.5" stroke="#808080" stroke-width="3.5"/>
<text x="77.0" y="1284.0" font-size="24" font-weight="normal" text-anchor="end" fill="#000" textLength="27" lengthAdjust="spacingAndGlyphs" stroke="#000" stroke-width="0.4">40</text>
<line x1="79.3" y1="1345.5" x2="93.3" y2="1345.5" stroke="#808080" stroke-width="3.5"/>
<text x="77.0" y="1354.0" font-size="24" font-weight="normal" text-anchor="end" fill="#000" textLength="27" lengthAdjust="spacingAndGlyphs" stroke="#000" stroke-width="0.4">30</text>
<line x1="79.3" y1="1415.5" x2="93.3" y2="1415.5" stroke="#000" stroke-width="3.5"/>
<text x="77.0" y="1424.0" font-size="24" font-weight="normal" text-anchor="end" fill="#000" textLength="27" lengthAdjust="spacingAndGlyphs" stroke="#000" stroke-width="0.4">20</text>
<line x1="79.3" y1="1485.5" x2="93.3" y2="1485.5" stroke="#808080" stroke-width="3.5"/>
<text x="77.0" y="1494.0" font-size="24" font-weight="normal" text-anchor="end" fill="#000" textLength="27" lengthAdjust="spacingAndGlyphs" stroke="#000" stroke-width="0.4">10</text>
<line x1="79.3" y1="1555.5" x2="93.3" y2="1555.5" stroke="#000" stroke-width="3.5"/>
<text x="77.0" y="1564.0" font-size="24" font-weight="normal" text-anchor="end" fill="#000" textLength="13.5" lengthAdjust="spacingAndGlyphs" stroke="#000" stroke-width="0.4">0</text>
<line x1="82.0" y1="1556.0" x2="594.0" y2="1556.0" stroke="#000" stroke-width="4"/>
<line x1="115.2" y1="1556.0" x2="115.2" y2="1571.0" stroke="#000" stroke-width="3.5"/>
<text x="115.2" y="1597.0" font-size="24" font-weight="normal" text-anchor="middle" fill="#000" textLength="13.5" lengthAdjust="spacingAndGlyphs" stroke="#000" stroke-width="0.4">1</text>
<line x1="147.3" y1="1556.0" x2="147.3" y2="1571.0" stroke="#000" stroke-width="3.5"/>
<text x="147.3" y="1597.0" font-size="24" font-weight="normal" text-anchor="middle" fill="#000" textLength="13.5" lengthAdjust="spacingAndGlyphs" stroke="#000" stroke-width="0.4">2</text>
<line x1="179.6" y1="1556.0" x2="179.6" y2="1571.0" stroke="#000" stroke-width="3.5"/>
<text x="179.6" y="1597.0" font-size="24" font-weight="normal" text-anchor="middle" fill="#000" textLength="13.5" lengthAdjust="spacingAndGlyphs" stroke="#000" stroke-width="0.4">3</text>
<line x1="212.8" y1="1556.0" x2="212.8" y2="1571.0" stroke="#808080" stroke-width="3.5"/>
<text x="212.8" y="1597.0" font-size="24" font-weight="normal" text-anchor="middle" fill="#000" textLength="13.5" lengthAdjust="spacingAndGlyphs" stroke="#000" stroke-width="0.4">4</text>
<line x1="245.5" y1="1556.0" x2="245.5" y2="1571.0" stroke="#808080" stroke-width="3.5"/>
<text x="245.5" y="1597.0" font-size="24" font-weight="normal" text-anchor="middle" fill="#000" textLength="13.5" lengthAdjust="spacingAndGlyphs" stroke="#000" stroke-width="0.4">5</text>
<line x1="277.2" y1="1556.0" x2="277.2" y2="1571.0" stroke="#808080" stroke-width="3.5"/>
<text x="277.2" y="1597.0" font-size="24" font-weight="normal" text-anchor="middle" fill="#000" textLength="13.5" lengthAdjust="spacingAndGlyphs" stroke="#000" stroke-width="0.4">6</text>
<line x1="309.4" y1="1556.0" x2="309.4" y2="1571.0" stroke="#808080" stroke-width="3.5"/>
<text x="309.4" y="1597.0" font-size="24" font-weight="normal" text-anchor="middle" fill="#000" textLength="13.5" lengthAdjust="spacingAndGlyphs" stroke="#000" stroke-width="0.4">7</text>
<line x1="342.6" y1="1556.0" x2="342.6" y2="1571.0" stroke="#000" stroke-width="3.5"/>
<text x="342.6" y="1597.0" font-size="24" font-weight="normal" text-anchor="middle" fill="#000" textLength="13.5" lengthAdjust="spacingAndGlyphs" stroke="#000" stroke-width="0.4">8</text>
<line x1="375.1" y1="1556.0" x2="375.1" y2="1571.0" stroke="#000" stroke-width="3.5"/>
<text x="375.1" y="1597.0" font-size="24" font-weight="normal" text-anchor="middle" fill="#000" textLength="13.5" lengthAdjust="spacingAndGlyphs" stroke="#000" stroke-width="0.4">9</text>
<line x1="407.2" y1="1556.0" x2="407.2" y2="1571.0" stroke="#000" stroke-width="3.5"/>
<text x="407.2" y="1597.0" font-size="24" font-weight="normal" text-anchor="middle" fill="#000" textLength="27" lengthAdjust="spacingAndGlyphs" stroke="#000" stroke-width="0.4">10</text>
<line x1="438.9" y1="1556.0" x2="438.9" y2="1571.0" stroke="#808080" stroke-width="3.5"/>
<text x="438.9" y="1597.0" font-size="24" font-weight="normal" text-anchor="middle" fill="#000" textLength="27" lengthAdjust="spacingAndGlyphs" stroke="#000" stroke-width="0.4">11</text>
<line x1="471.7" y1="1556.0" x2="471.7" y2="1571.0" stroke="#808080" stroke-width="3.5"/>
<text x="471.7" y="1597.0" font-size="24" font-weight="normal" text-anchor="middle" fill="#000" textLength="27" lengthAdjust="spacingAndGlyphs" stroke="#000" stroke-width="0.4">12</text>
<line x1="504.7" y1="1556.0" x2="504.7" y2="1571.0" stroke="#808080" stroke-width="3.5"/>
<text x="504.7" y="1597.0" font-size="24" font-weight="normal" text-anchor="middle" fill="#000" textLength="27" lengthAdjust="spacingAndGlyphs" stroke="#000" stroke-width="0.4">13</text>
<line x1="537.0" y1="1556.0" x2="537.0" y2="1571.0" stroke="#808080" stroke-width="3.5"/>
<text x="537.0" y="1597.0" font-size="24" font-weight="normal" text-anchor="middle" fill="#000" textLength="27" lengthAdjust="spacingAndGlyphs" stroke="#000" stroke-width="0.4">14</text>
<line x1="569.2" y1="1556.0" x2="569.2" y2="1571.0" stroke="#808080" stroke-width="3.5"/>
<text x="569.2" y="1597.0" font-size="24" font-weight="normal" text-anchor="middle" fill="#000" textLength="27" lengthAdjust="spacingAndGlyphs" stroke="#000" stroke-width="0.4">15</text>
<text x="33.0" y="1381.0" font-size="29" font-weight="normal" stroke="#000" stroke-width="0.6" text-anchor="middle" textLength="193" lengthAdjust="spacingAndGlyphs" transform="rotate(-90 33.0 1381.0)">Young Time (s)</text>
<text x="344.5" y="1647.0" font-size="29" font-weight="bold" text-anchor="middle" fill="#000" textLength="152" lengthAdjust="spacingAndGlyphs" >Testing Day</text>
<line x1="115.2" y1="1511.6" x2="115.2" y2="1524.1" stroke="#000" stroke-width="3.5"/>
<rect x="106.7" y="1509.3" width="17.0" height="4.5" fill="#000"/>
<rect x="106.7" y="1521.8" width="17.0" height="4.5" fill="#000"/>
<polygon points="106.7,1524.9 123.7,1524.9 115.2,1509.9" fill="#000"/>
<line x1="147.3" y1="1391.9" x2="147.3" y2="1470.3" stroke="#000" stroke-width="3.5"/>
<rect x="138.8" y="1389.7" width="17.0" height="4.5" fill="#000"/>
<rect x="138.8" y="1468.0" width="17.0" height="4.5" fill="#000"/>
<polygon points="138.8,1443.5 155.8,1443.5 147.3,1428.5" fill="#000"/>
<line x1="179.6" y1="1420.3" x2="179.6" y2="1499.1" stroke="#000" stroke-width="3.5"/>
<rect x="171.1" y="1418.0" width="17.0" height="4.5" fill="#000"/>
<rect x="171.1" y="1496.8" width="17.0" height="4.5" fill="#000"/>
<polygon points="171.1,1467.2 188.1,1467.2 179.6,1452.2" fill="#000"/>
<line x1="212.8" y1="1490.0" x2="212.8" y2="1510.0" stroke="#000" stroke-width="3.5"/>
<rect x="204.3" y="1487.8" width="17.0" height="4.5" fill="#000"/>
<rect x="204.3" y="1507.8" width="17.0" height="4.5" fill="#000"/>
<polygon points="204.3,1507.5 221.3,1507.5 212.8,1492.5" fill="#000"/>
<line x1="245.5" y1="1495.0" x2="245.5" y2="1509.0" stroke="#000" stroke-width="3.5"/>
<rect x="237.0" y="1492.8" width="17.0" height="4.5" fill="#000"/>
<rect x="237.0" y="1506.8" width="17.0" height="4.5" fill="#000"/>
<polygon points="237.0,1509.5 254.0,1509.5 245.5,1494.5" fill="#000"/>
<line x1="277.2" y1="1499.0" x2="277.2" y2="1509.0" stroke="#000" stroke-width="3.5"/>
<rect x="268.7" y="1496.8" width="17.0" height="4.5" fill="#000"/>
<rect x="268.7" y="1506.8" width="17.0" height="4.5" fill="#000"/>
<polygon points="268.7,1511.5 285.7,1511.5 277.2,1496.5" fill="#000"/>
<line x1="309.4" y1="1481.0" x2="309.4" y2="1519.0" stroke="#000" stroke-width="3.5"/>
<rect x="300.9" y="1478.8" width="17.0" height="4.5" fill="#000"/>
<rect x="300.9" y="1516.8" width="17.0" height="4.5" fill="#000"/>
<polygon points="300.9,1507.5 317.9,1507.5 309.4,1492.5" fill="#000"/>
<line x1="342.6" y1="1503.0" x2="342.6" y2="1523.0" stroke="#000" stroke-width="3.5"/>
<rect x="334.1" y="1500.8" width="17.0" height="4.5" fill="#000"/>
<rect x="334.1" y="1520.8" width="17.0" height="4.5" fill="#000"/>
<polygon points="334.1,1520.5 351.1,1520.5 342.6,1505.5" fill="#000"/>
<line x1="375.1" y1="1473.4" x2="375.1" y2="1520.6" stroke="#000" stroke-width="3.5"/>
<rect x="366.6" y="1471.2" width="17.0" height="4.5" fill="#000"/>
<rect x="366.6" y="1518.3" width="17.0" height="4.5" fill="#000"/>
<polygon points="366.6,1504.5 383.6,1504.5 375.1,1489.5" fill="#000"/>
<line x1="407.2" y1="1505.0" x2="407.2" y2="1515.0" stroke="#000" stroke-width="3.5"/>
<rect x="398.7" y="1502.8" width="17.0" height="4.5" fill="#000"/>
<rect x="398.7" y="1512.8" width="17.0" height="4.5" fill="#000"/>
<polygon points="398.7,1517.5 415.7,1517.5 407.2,1502.5" fill="#000"/>
<line x1="438.9" y1="1490.8" x2="438.9" y2="1519.0" stroke="#000" stroke-width="3.5"/>
<rect x="430.4" y="1488.5" width="17.0" height="4.5" fill="#000"/>
<rect x="430.4" y="1516.8" width="17.0" height="4.5" fill="#000"/>
<polygon points="430.4,1512.5 447.4,1512.5 438.9,1497.5" fill="#000"/>
<line x1="471.7" y1="1510.0" x2="471.7" y2="1520.0" stroke="#000" stroke-width="3.5"/>
<rect x="463.2" y="1507.8" width="17.0" height="4.5" fill="#000"/>
<rect x="463.2" y="1517.8" width="17.0" height="4.5" fill="#000"/>
<polygon points="463.2,1522.5 480.2,1522.5 471.7,1507.5" fill="#000"/>
<line x1="504.7" y1="1480.9" x2="504.7" y2="1519.0" stroke="#000" stroke-width="3.5"/>
<rect x="496.2" y="1478.7" width="17.0" height="4.5" fill="#000"/>
<rect x="496.2" y="1516.8" width="17.0" height="4.5" fill="#000"/>
<polygon points="496.2,1507.5 513.2,1507.5 504.7,1492.5" fill="#000"/>
<line x1="537.0" y1="1487.6" x2="537.0" y2="1528.0" stroke="#000" stroke-width="3.5"/>
<rect x="528.5" y="1485.3" width="17.0" height="4.5" fill="#000"/>
<rect x="528.5" y="1525.8" width="17.0" height="4.5" fill="#000"/>
<polygon points="528.5,1515.5 545.5,1515.5 537.0,1500.5" fill="#000"/>
<line x1="569.2" y1="1505.7" x2="569.2" y2="1525.0" stroke="#000" stroke-width="3.5"/>
<rect x="560.7" y="1503.5" width="17.0" height="4.5" fill="#000"/>
<rect x="560.7" y="1522.8" width="17.0" height="4.5" fill="#000"/>
<polygon points="560.7,1522.5 577.7,1522.5 569.2,1507.5" fill="#000"/>
<line x1="115.2" y1="1402.0" x2="115.2" y2="1488.0" stroke="#ff0000" stroke-width="3.5"/>
<rect x="106.7" y="1399.8" width="17.0" height="4.5" fill="#ff0000"/>
<rect x="106.7" y="1485.8" width="17.0" height="4.5" fill="#ff0000"/>
<rect x="106.7" y="1436.8" width="17.0" height="17.0" fill="#ff0000"/>
<line x1="147.3" y1="1416.9" x2="147.3" y2="1475.5" stroke="#ff0000" stroke-width="3.5"/>
<rect x="138.8" y="1414.7" width="17.0" height="4.5" fill="#ff0000"/>
<rect x="138.8" y="1473.2" width="17.0" height="4.5" fill="#ff0000"/>
<rect x="138.8" y="1437.7" width="17.0" height="17.0" fill="#ff0000"/>
<line x1="179.6" y1="1500.0" x2="179.6" y2="1515.0" stroke="#ff0000" stroke-width="3.5"/>
<rect x="171.1" y="1497.8" width="17.0" height="4.5" fill="#ff0000"/>
<rect x="171.1" y="1512.8" width="17.0" height="4.5" fill="#ff0000"/>
<rect x="171.1" y="1499.2" width="17.0" height="17.0" fill="#ff0000"/>
<line x1="212.8" y1="1490.0" x2="212.8" y2="1521.2" stroke="#ff0000" stroke-width="3.5"/>
<rect x="204.3" y="1487.8" width="17.0" height="4.5" fill="#ff0000"/>
<rect x="204.3" y="1519.0" width="17.0" height="4.5" fill="#ff0000"/>
<rect x="204.3" y="1497.3" width="17.0" height="17.0" fill="#ff0000"/>
<line x1="245.5" y1="1515.0" x2="245.5" y2="1533.0" stroke="#ff0000" stroke-width="3.5"/>
<rect x="237.0" y="1512.8" width="17.0" height="4.5" fill="#ff0000"/>
<rect x="237.0" y="1530.8" width="17.0" height="4.5" fill="#ff0000"/>
<rect x="237.0" y="1515.6" width="17.0" height="17.0" fill="#ff0000"/>
<line x1="277.2" y1="1505.0" x2="277.2" y2="1524.0" stroke="#ff0000" stroke-width="3.5"/>
<rect x="268.7" y="1502.8" width="17.0" height="4.5" fill="#ff0000"/>
<rect x="268.7" y="1521.8" width="17.0" height="4.5" fill="#ff0000"/>
<rect x="268.7" y="1506.0" width="17.0" height="17.0" fill="#ff0000"/>
<line x1="309.4" y1="1477.0" x2="309.4" y2="1517.0" stroke="#ff0000" stroke-width="3.5"/>
<rect x="300.9" y="1474.8" width="17.0" height="4.5" fill="#ff0000"/>
<rect x="300.9" y="1514.8" width="17.0" height="4.5" fill="#ff0000"/>
<rect x="300.9" y="1488.5" width="17.0" height="17.0" fill="#ff0000"/>
<line x1="342.6" y1="1525.0" x2="342.6" y2="1536.0" stroke="#ff0000" stroke-width="3.5"/>
<rect x="334.1" y="1522.8" width="17.0" height="4.5" fill="#ff0000"/>
<rect x="334.1" y="1533.8" width="17.0" height="4.5" fill="#ff0000"/>
<rect x="334.1" y="1522.0" width="17.0" height="17.0" fill="#ff0000"/>
<line x1="375.1" y1="1483.4" x2="375.1" y2="1530.5" stroke="#ff0000" stroke-width="3.5"/>
<rect x="366.6" y="1481.2" width="17.0" height="4.5" fill="#ff0000"/>
<rect x="366.6" y="1528.2" width="17.0" height="4.5" fill="#ff0000"/>
<rect x="366.6" y="1500.9" width="17.0" height="17.0" fill="#ff0000"/>
<line x1="407.2" y1="1527.0" x2="407.2" y2="1536.0" stroke="#ff0000" stroke-width="3.5"/>
<rect x="398.7" y="1524.8" width="17.0" height="4.5" fill="#ff0000"/>
<rect x="398.7" y="1533.8" width="17.0" height="4.5" fill="#ff0000"/>
<rect x="398.7" y="1523.3" width="17.0" height="17.0" fill="#ff0000"/>
<line x1="438.9" y1="1502.0" x2="438.9" y2="1530.5" stroke="#ff0000" stroke-width="3.5"/>
<rect x="430.4" y="1499.8" width="17.0" height="4.5" fill="#ff0000"/>
<rect x="430.4" y="1528.2" width="17.0" height="4.5" fill="#ff0000"/>
<rect x="430.4" y="1507.5" width="17.0" height="17.0" fill="#ff0000"/>
<line x1="471.7" y1="1502.0" x2="471.7" y2="1530.0" stroke="#ff0000" stroke-width="3.5"/>
<rect x="463.2" y="1499.8" width="17.0" height="4.5" fill="#ff0000"/>
<rect x="463.2" y="1527.8" width="17.0" height="4.5" fill="#ff0000"/>
<rect x="463.2" y="1507.5" width="17.0" height="17.0" fill="#ff0000"/>
<line x1="504.7" y1="1485.0" x2="504.7" y2="1512.0" stroke="#ff0000" stroke-width="3.5"/>
<rect x="496.2" y="1482.8" width="17.0" height="4.5" fill="#ff0000"/>
<rect x="496.2" y="1509.8" width="17.0" height="4.5" fill="#ff0000"/>
<rect x="496.2" y="1489.8" width="17.0" height="17.0" fill="#ff0000"/>
<line x1="537.0" y1="1502.0" x2="537.0" y2="1530.5" stroke="#ff0000" stroke-width="3.5"/>
<rect x="528.5" y="1499.8" width="17.0" height="4.5" fill="#ff0000"/>
<rect x="528.5" y="1528.2" width="17.0" height="4.5" fill="#ff0000"/>
<rect x="528.5" y="1507.5" width="17.0" height="17.0" fill="#ff0000"/>
<line x1="569.2" y1="1508.0" x2="569.2" y2="1522.0" stroke="#ff0000" stroke-width="3.5"/>
<rect x="560.7" y="1505.8" width="17.0" height="4.5" fill="#ff0000"/>
<rect x="560.7" y="1519.8" width="17.0" height="4.5" fill="#ff0000"/>
<rect x="560.7" y="1506.5" width="17.0" height="17.0" fill="#ff0000"/>
<line x1="115.2" y1="1348.8" x2="115.2" y2="1472.2" stroke="#0000f0" stroke-width="3.5"/>
<rect x="106.7" y="1346.5" width="17.0" height="4.5" fill="#0000f0"/>
<rect x="106.7" y="1470.0" width="17.0" height="4.5" fill="#0000f0"/>
<circle cx="115.2" cy="1408.8" r="8.0" fill="#0000f0"/>
<line x1="147.3" y1="1427.6" x2="147.3" y2="1497.2" stroke="#0000f0" stroke-width="3.5"/>
<rect x="138.8" y="1425.3" width="17.0" height="4.5" fill="#0000f0"/>
<rect x="138.8" y="1495.0" width="17.0" height="4.5" fill="#0000f0"/>
<circle cx="147.3" cy="1462.4" r="8.0" fill="#0000f0"/>
<line x1="179.6" y1="1449.1" x2="179.6" y2="1512.6" stroke="#0000f0" stroke-width="3.5"/>
<rect x="171.1" y="1446.8" width="17.0" height="4.5" fill="#0000f0"/>
<rect x="171.1" y="1510.3" width="17.0" height="4.5" fill="#0000f0"/>
<circle cx="179.6" cy="1480.9" r="8.0" fill="#0000f0"/>
<line x1="212.8" y1="1461.6" x2="212.8" y2="1516.4" stroke="#0000f0" stroke-width="3.5"/>
<rect x="204.3" y="1459.3" width="17.0" height="4.5" fill="#0000f0"/>
<rect x="204.3" y="1514.2" width="17.0" height="4.5" fill="#0000f0"/>
<circle cx="212.8" cy="1489.5" r="8.0" fill="#0000f0"/>
<line x1="245.5" y1="1468.4" x2="245.5" y2="1516.4" stroke="#0000f0" stroke-width="3.5"/>
<rect x="237.0" y="1466.2" width="17.0" height="4.5" fill="#0000f0"/>
<rect x="237.0" y="1514.2" width="17.0" height="4.5" fill="#0000f0"/>
<circle cx="245.5" cy="1492.4" r="8.0" fill="#0000f0"/>
<line x1="277.2" y1="1512.0" x2="277.2" y2="1526.0" stroke="#0000f0" stroke-width="3.5"/>
<rect x="268.7" y="1509.8" width="17.0" height="4.5" fill="#0000f0"/>
<rect x="268.7" y="1523.8" width="17.0" height="4.5" fill="#0000f0"/>
<circle cx="277.2" cy="1519.3" r="8.0" fill="#0000f0"/>
<line x1="309.4" y1="1469.0" x2="309.4" y2="1509.0" stroke="#0000f0" stroke-width="3.5"/>
<rect x="300.9" y="1466.8" width="17.0" height="4.5" fill="#0000f0"/>
<rect x="300.9" y="1506.8" width="17.0" height="4.5" fill="#0000f0"/>
<circle cx="309.4" cy="1489.0" r="8.0" fill="#0000f0"/>
<line x1="342.6" y1="1473.4" x2="342.6" y2="1523.1" stroke="#0000f0" stroke-width="3.5"/>
<rect x="334.1" y="1471.2" width="17.0" height="4.5" fill="#0000f0"/>
<rect x="334.1" y="1520.8" width="17.0" height="4.5" fill="#0000f0"/>
<circle cx="342.6" cy="1498.3" r="8.0" fill="#0000f0"/>
<line x1="375.1" y1="1477.2" x2="375.1" y2="1523.1" stroke="#0000f0" stroke-width="3.5"/>
<rect x="366.6" y="1475.0" width="17.0" height="4.5" fill="#0000f0"/>
<rect x="366.6" y="1520.8" width="17.0" height="4.5" fill="#0000f0"/>
<circle cx="375.1" cy="1500.7" r="8.0" fill="#0000f0"/>
<line x1="407.2" y1="1473.4" x2="407.2" y2="1520.6" stroke="#0000f0" stroke-width="3.5"/>
<rect x="398.7" y="1471.2" width="17.0" height="4.5" fill="#0000f0"/>
<rect x="398.7" y="1518.3" width="17.0" height="4.5" fill="#0000f0"/>
<circle cx="407.2" cy="1498.3" r="8.0" fill="#0000f0"/>
<line x1="438.9" y1="1510.0" x2="438.9" y2="1526.0" stroke="#0000f0" stroke-width="3.5"/>
<rect x="430.4" y="1507.8" width="17.0" height="4.5" fill="#0000f0"/>
<rect x="430.4" y="1523.8" width="17.0" height="4.5" fill="#0000f0"/>
<circle cx="438.9" cy="1518.1" r="8.0" fill="#0000f0"/>
<line x1="471.7" y1="1510.0" x2="471.7" y2="1526.0" stroke="#0000f0" stroke-width="3.5"/>
<rect x="463.2" y="1507.8" width="17.0" height="4.5" fill="#0000f0"/>
<rect x="463.2" y="1523.8" width="17.0" height="4.5" fill="#0000f0"/>
<circle cx="471.7" cy="1518.1" r="8.0" fill="#0000f0"/>
<line x1="504.7" y1="1510.0" x2="504.7" y2="1526.0" stroke="#0000f0" stroke-width="3.5"/>
<rect x="496.2" y="1507.8" width="17.0" height="4.5" fill="#0000f0"/>
<rect x="496.2" y="1523.8" width="17.0" height="4.5" fill="#0000f0"/>
<circle cx="504.7" cy="1518.1" r="8.0" fill="#0000f0"/>
<line x1="537.0" y1="1508.0" x2="537.0" y2="1523.0" stroke="#0000f0" stroke-width="3.5"/>
<rect x="528.5" y="1505.8" width="17.0" height="4.5" fill="#0000f0"/>
<rect x="528.5" y="1520.8" width="17.0" height="4.5" fill="#0000f0"/>
<circle cx="537.0" cy="1515.6" r="8.0" fill="#0000f0"/>
<line x1="569.2" y1="1516.0" x2="569.2" y2="1530.0" stroke="#0000f0" stroke-width="3.5"/>
<rect x="560.7" y="1513.8" width="17.0" height="4.5" fill="#0000f0"/>
<rect x="560.7" y="1527.8" width="17.0" height="4.5" fill="#0000f0"/>
<circle cx="569.2" cy="1523.0" r="8.0" fill="#0000f0"/>
<line x1="722.5" y1="1205.3" x2="722.5" y2="1558.0" stroke="#8c8c8c" stroke-width="6"/>
<line x1="708.5" y1="1205.5" x2="722.5" y2="1205.5" stroke="#808080" stroke-width="3.5"/>
<text x="705.0" y="1214.0" font-size="24" font-weight="normal" text-anchor="end" fill="#000" textLength="27" lengthAdjust="spacingAndGlyphs" stroke="#000" stroke-width="0.4">50</text>
<line x1="708.5" y1="1275.5" x2="722.5" y2="1275.5" stroke="#000" stroke-width="3.5"/>
<text x="705.0" y="1284.0" font-size="24" font-weight="normal" text-anchor="end" fill="#000" textLength="27" lengthAdjust="spacingAndGlyphs" stroke="#000" stroke-width="0.4">40</text>
<line x1="708.5" y1="1345.5" x2="722.5" y2="1345.5" stroke="#808080" stroke-width="3.5"/>
<text x="705.0" y="1354.0" font-size="24" font-weight="normal" text-anchor="end" fill="#000" textLength="27" lengthAdjust="spacingAndGlyphs" stroke="#000" stroke-width="0.4">30</text>
<line x1="708.5" y1="1415.5" x2="722.5" y2="1415.5" stroke="#000" stroke-width="3.5"/>
<text x="705.0" y="1424.0" font-size="24" font-weight="normal" text-anchor="end" fill="#000" textLength="27" lengthAdjust="spacingAndGlyphs" stroke="#000" stroke-width="0.4">20</text>
<line x1="708.5" y1="1485.5" x2="722.5" y2="1485.5" stroke="#808080" stroke-width="3.5"/>
<text x="705.0" y="1494.0" font-size="24" font-weight="normal" text-anchor="end" fill="#000" textLength="27" lengthAdjust="spacingAndGlyphs" stroke="#000" stroke-width="0.4">10</text>
<line x1="708.5" y1="1555.5" x2="722.5" y2="1555.5" stroke="#000" stroke-width="3.5"/>
<text x="705.0" y="1564.0" font-size="24" font-weight="normal" text-anchor="end" fill="#000" textLength="13.5" lengthAdjust="spacingAndGlyphs" stroke="#000" stroke-width="0.4">0</text>
<line x1="708.0" y1="1556.2" x2="1220.7" y2="1556.2" stroke="#000" stroke-width="4"/>
<line x1="743.3" y1="1556.2" x2="743.3" y2="1571.2" stroke="#808080" stroke-width="3.5"/>
<text x="743.3" y="1597.0" font-size="24" font-weight="normal" text-anchor="middle" fill="#000" textLength="13.5" lengthAdjust="spacingAndGlyphs" stroke="#000" stroke-width="0.4">1</text>
<line x1="775.9" y1="1556.2" x2="775.9" y2="1571.2" stroke="#808080" stroke-width="3.5"/>
<text x="775.9" y="1597.0" font-size="24" font-weight="normal" text-anchor="middle" fill="#000" textLength="13.5" lengthAdjust="spacingAndGlyphs" stroke="#000" stroke-width="0.4">2</text>
<line x1="807.9" y1="1556.2" x2="807.9" y2="1571.2" stroke="#808080" stroke-width="3.5"/>
<text x="807.9" y="1597.0" font-size="24" font-weight="normal" text-anchor="middle" fill="#000" textLength="13.5" lengthAdjust="spacingAndGlyphs" stroke="#000" stroke-width="0.4">3</text>
<line x1="841.2" y1="1556.2" x2="841.2" y2="1571.2" stroke="#000" stroke-width="3.5"/>
<text x="841.2" y="1597.0" font-size="24" font-weight="normal" text-anchor="middle" fill="#000" textLength="13.5" lengthAdjust="spacingAndGlyphs" stroke="#000" stroke-width="0.4">4</text>
<line x1="873.5" y1="1556.2" x2="873.5" y2="1571.2" stroke="#000" stroke-width="3.5"/>
<text x="873.5" y="1597.0" font-size="24" font-weight="normal" text-anchor="middle" fill="#000" textLength="13.5" lengthAdjust="spacingAndGlyphs" stroke="#000" stroke-width="0.4">5</text>
<line x1="905.5" y1="1556.2" x2="905.5" y2="1571.2" stroke="#000" stroke-width="3.5"/>
<text x="905.5" y="1597.0" font-size="24" font-weight="normal" text-anchor="middle" fill="#000" textLength="13.5" lengthAdjust="spacingAndGlyphs" stroke="#000" stroke-width="0.4">6</text>
<line x1="937.6" y1="1556.2" x2="937.6" y2="1571.2" stroke="#000" stroke-width="3.5"/>
<text x="937.6" y="1597.0" font-size="24" font-weight="normal" text-anchor="middle" fill="#000" textLength="13.5" lengthAdjust="spacingAndGlyphs" stroke="#000" stroke-width="0.4">7</text>
<line x1="969.7" y1="1556.2" x2="969.7" y2="1571.2" stroke="#808080" stroke-width="3.5"/>
<text x="969.7" y="1597.0" font-size="24" font-weight="normal" text-anchor="middle" fill="#000" textLength="13.5" lengthAdjust="spacingAndGlyphs" stroke="#000" stroke-width="0.4">8</text>
<line x1="1003.0" y1="1556.2" x2="1003.0" y2="1571.2" stroke="#808080" stroke-width="3.5"/>
<text x="1003.0" y="1597.0" font-size="24" font-weight="normal" text-anchor="middle" fill="#000" textLength="13.5" lengthAdjust="spacingAndGlyphs" stroke="#000" stroke-width="0.4">9</text>
<line x1="1035.1" y1="1556.2" x2="1035.1" y2="1571.2" stroke="#808080" stroke-width="3.5"/>
<text x="1035.1" y="1597.0" font-size="24" font-weight="normal" text-anchor="middle" fill="#000" textLength="27" lengthAdjust="spacingAndGlyphs" stroke="#000" stroke-width="0.4">10</text>
<line x1="1067.5" y1="1556.2" x2="1067.5" y2="1571.2" stroke="#808080" stroke-width="3.5"/>
<text x="1067.5" y="1597.0" font-size="24" font-weight="normal" text-anchor="middle" fill="#000" textLength="27" lengthAdjust="spacingAndGlyphs" stroke="#000" stroke-width="0.4">11</text>
<line x1="1099.6" y1="1556.2" x2="1099.6" y2="1571.2" stroke="#808080" stroke-width="3.5"/>
<text x="1099.6" y="1597.0" font-size="24" font-weight="normal" text-anchor="middle" fill="#000" textLength="27" lengthAdjust="spacingAndGlyphs" stroke="#000" stroke-width="0.4">12</text>
<line x1="1132.2" y1="1556.2" x2="1132.2" y2="1571.2" stroke="#808080" stroke-width="3.5"/>
<text x="1132.2" y="1597.0" font-size="24" font-weight="normal" text-anchor="middle" fill="#000" textLength="27" lengthAdjust="spacingAndGlyphs" stroke="#000" stroke-width="0.4">13</text>
<line x1="1164.9" y1="1556.2" x2="1164.9" y2="1571.2" stroke="#000" stroke-width="3.5"/>
<text x="1164.9" y="1597.0" font-size="24" font-weight="normal" text-anchor="middle" fill="#000" textLength="27" lengthAdjust="spacingAndGlyphs" stroke="#000" stroke-width="0.4">14</text>
<line x1="1197.6" y1="1556.2" x2="1197.6" y2="1571.2" stroke="#000" stroke-width="3.5"/>
<text x="1197.6" y="1597.0" font-size="24" font-weight="normal" text-anchor="middle" fill="#000" textLength="27" lengthAdjust="spacingAndGlyphs" stroke="#000" stroke-width="0.4">15</text>
<text x="659.0" y="1381.0" font-size="29" font-weight="normal" stroke="#000" stroke-width="0.6" text-anchor="middle" textLength="179" lengthAdjust="spacingAndGlyphs" transform="rotate(-90 659.0 1381.0)">Aged Time (s)</text>
<text x="972.5" y="1639.5" font-size="29" font-weight="bold" text-anchor="middle" fill="#000" textLength="150" lengthAdjust="spacingAndGlyphs" >Testing Day</text>
<line x1="743.3" y1="1461.3" x2="743.3" y2="1484.0" stroke="#0000c0" stroke-width="3.5"/>
<rect x="734.8" y="1459.0" width="17.0" height="4.5" fill="#0000c0"/>
<rect x="734.8" y="1481.8" width="17.0" height="4.5" fill="#0000c0"/>
<circle cx="743.3" cy="1473.3" r="8.0" fill="#0000c0"/>
<line x1="775.9" y1="1453.0" x2="775.9" y2="1498.7" stroke="#0000c0" stroke-width="3.5"/>
<rect x="767.4" y="1450.8" width="17.0" height="4.5" fill="#0000c0"/>
<rect x="767.4" y="1496.5" width="17.0" height="4.5" fill="#0000c0"/>
<circle cx="775.9" cy="1476.0" r="8.0" fill="#0000c0"/>
<line x1="807.9" y1="1441.3" x2="807.9" y2="1474.7" stroke="#0000c0" stroke-width="3.5"/>
<rect x="799.4" y="1439.0" width="17.0" height="4.5" fill="#0000c0"/>
<rect x="799.4" y="1472.5" width="17.0" height="4.5" fill="#0000c0"/>
<circle cx="807.9" cy="1458.7" r="8.0" fill="#0000c0"/>
<line x1="841.2" y1="1427.5" x2="841.2" y2="1478.7" stroke="#0000c0" stroke-width="3.5"/>
<rect x="832.7" y="1425.2" width="17.0" height="4.5" fill="#0000c0"/>
<rect x="832.7" y="1476.5" width="17.0" height="4.5" fill="#0000c0"/>
<circle cx="841.2" cy="1453.0" r="8.0" fill="#0000c0"/>
<line x1="873.5" y1="1442.7" x2="873.5" y2="1498.7" stroke="#0000c0" stroke-width="3.5"/>
<rect x="865.0" y="1440.5" width="17.0" height="4.5" fill="#0000c0"/>
<rect x="865.0" y="1496.5" width="17.0" height="4.5" fill="#0000c0"/>
<circle cx="873.5" cy="1470.7" r="8.0" fill="#0000c0"/>
<line x1="905.5" y1="1421.7" x2="905.5" y2="1498.5" stroke="#0000c0" stroke-width="3.5"/>
<rect x="897.0" y="1419.5" width="17.0" height="4.5" fill="#0000c0"/>
<rect x="897.0" y="1496.2" width="17.0" height="4.5" fill="#0000c0"/>
<circle cx="905.5" cy="1460.0" r="8.0" fill="#0000c0"/>
<line x1="937.6" y1="1452.2" x2="937.6" y2="1525.7" stroke="#0000c0" stroke-width="3.5"/>
<rect x="929.1" y="1450.0" width="17.0" height="4.5" fill="#0000c0"/>
<rect x="929.1" y="1523.5" width="17.0" height="4.5" fill="#0000c0"/>
<circle cx="937.6" cy="1488.9" r="8.0" fill="#0000c0"/>
<line x1="969.7" y1="1425.8" x2="969.7" y2="1484.0" stroke="#0000c0" stroke-width="3.5"/>
<rect x="961.2" y="1423.5" width="17.0" height="4.5" fill="#0000c0"/>
<rect x="961.2" y="1481.8" width="17.0" height="4.5" fill="#0000c0"/>
<circle cx="969.7" cy="1454.9" r="8.0" fill="#0000c0"/>
<line x1="1003.0" y1="1463.0" x2="1003.0" y2="1493.0" stroke="#0000c0" stroke-width="3.5"/>
<rect x="994.5" y="1460.8" width="17.0" height="4.5" fill="#0000c0"/>
<rect x="994.5" y="1490.8" width="17.0" height="4.5" fill="#0000c0"/>
<circle cx="1003.0" cy="1478.0" r="8.0" fill="#0000c0"/>
<line x1="1035.1" y1="1420.9" x2="1035.1" y2="1476.7" stroke="#0000c0" stroke-width="3.5"/>
<rect x="1026.6" y="1418.7" width="17.0" height="4.5" fill="#0000c0"/>
<rect x="1026.6" y="1474.5" width="17.0" height="4.5" fill="#0000c0"/>
<circle cx="1035.1" cy="1448.0" r="8.0" fill="#0000c0"/>
<line x1="1067.5" y1="1448.1" x2="1067.5" y2="1486.2" stroke="#0000c0" stroke-width="3.5"/>
<rect x="1059.0" y="1445.8" width="17.0" height="4.5" fill="#0000c0"/>
<rect x="1059.0" y="1484.0" width="17.0" height="4.5" fill="#0000c0"/>
<circle cx="1067.5" cy="1467.2" r="8.0" fill="#0000c0"/>
<line x1="1099.6" y1="1429.0" x2="1099.6" y2="1479.4" stroke="#0000c0" stroke-width="3.5"/>
<rect x="1091.1" y="1426.8" width="17.0" height="4.5" fill="#0000c0"/>
<rect x="1091.1" y="1477.2" width="17.0" height="4.5" fill="#0000c0"/>
<circle cx="1099.6" cy="1453.5" r="8.0" fill="#0000c0"/>
<line x1="1132.2" y1="1488.4" x2="1132.2" y2="1512.6" stroke="#0000c0" stroke-width="3.5"/>
<rect x="1123.7" y="1486.2" width="17.0" height="4.5" fill="#0000c0"/>
<rect x="1123.7" y="1510.3" width="17.0" height="4.5" fill="#0000c0"/>
<circle cx="1132.2" cy="1501.2" r="8.0" fill="#0000c0"/>
<line x1="1164.9" y1="1463.0" x2="1164.9" y2="1497.1" stroke="#0000c0" stroke-width="3.5"/>
<rect x="1156.4" y="1460.8" width="17.0" height="4.5" fill="#0000c0"/>
<rect x="1156.4" y="1494.8" width="17.0" height="4.5" fill="#0000c0"/>
<circle cx="1164.9" cy="1479.4" r="8.0" fill="#0000c0"/>
<line x1="1197.6" y1="1434.5" x2="1197.6" y2="1491.6" stroke="#0000c0" stroke-width="3.5"/>
<rect x="1189.1" y="1432.2" width="17.0" height="4.5" fill="#0000c0"/>
<rect x="1189.1" y="1489.3" width="17.0" height="4.5" fill="#0000c0"/>
<circle cx="1197.6" cy="1461.7" r="8.0" fill="#0000c0"/>
<line x1="743.3" y1="1373.3" x2="743.3" y2="1428.0" stroke="#ff0000" stroke-width="3.5"/>
<rect x="734.8" y="1371.0" width="17.0" height="4.5" fill="#ff0000"/>
<rect x="734.8" y="1425.8" width="17.0" height="4.5" fill="#ff0000"/>
<rect x="734.8" y="1391.5" width="17.0" height="17.0" fill="#ff0000"/>
<line x1="775.9" y1="1441.0" x2="775.9" y2="1473.3" stroke="#ff0000" stroke-width="3.5"/>
<rect x="767.4" y="1438.8" width="17.0" height="4.5" fill="#ff0000"/>
<rect x="767.4" y="1471.0" width="17.0" height="4.5" fill="#ff0000"/>
<rect x="767.4" y="1447.5" width="17.0" height="17.0" fill="#ff0000"/>
<line x1="807.9" y1="1341.3" x2="807.9" y2="1434.0" stroke="#ff0000" stroke-width="3.5"/>
<rect x="799.4" y="1339.0" width="17.0" height="4.5" fill="#ff0000"/>
<rect x="799.4" y="1431.8" width="17.0" height="4.5" fill="#ff0000"/>
<rect x="799.4" y="1379.5" width="17.0" height="17.0" fill="#ff0000"/>
<line x1="841.2" y1="1430.7" x2="841.2" y2="1473.0" stroke="#ff0000" stroke-width="3.5"/>
<rect x="832.7" y="1428.5" width="17.0" height="4.5" fill="#ff0000"/>
<rect x="832.7" y="1470.8" width="17.0" height="4.5" fill="#ff0000"/>
<rect x="832.7" y="1443.5" width="17.0" height="17.0" fill="#ff0000"/>
<line x1="873.5" y1="1434.7" x2="873.5" y2="1466.7" stroke="#ff0000" stroke-width="3.5"/>
<rect x="865.0" y="1432.5" width="17.0" height="4.5" fill="#ff0000"/>
<rect x="865.0" y="1464.5" width="17.0" height="4.5" fill="#ff0000"/>
<rect x="865.0" y="1443.5" width="17.0" height="17.0" fill="#ff0000"/>
<line x1="905.5" y1="1445.4" x2="905.5" y2="1484.3" stroke="#ff0000" stroke-width="3.5"/>
<rect x="897.0" y="1443.2" width="17.0" height="4.5" fill="#ff0000"/>
<rect x="897.0" y="1482.0" width="17.0" height="4.5" fill="#ff0000"/>
<rect x="897.0" y="1455.9" width="17.0" height="17.0" fill="#ff0000"/>
<line x1="937.6" y1="1398.6" x2="937.6" y2="1474.0" stroke="#ff0000" stroke-width="3.5"/>
<rect x="929.1" y="1396.3" width="17.0" height="4.5" fill="#ff0000"/>
<rect x="929.1" y="1471.8" width="17.0" height="4.5" fill="#ff0000"/>
<rect x="929.1" y="1426.0" width="17.0" height="17.0" fill="#ff0000"/>
<line x1="969.7" y1="1345.2" x2="969.7" y2="1466.6" stroke="#ff0000" stroke-width="3.5"/>
<rect x="961.2" y="1343.0" width="17.0" height="4.5" fill="#ff0000"/>
<rect x="961.2" y="1464.3" width="17.0" height="4.5" fill="#ff0000"/>
<rect x="961.2" y="1397.4" width="17.0" height="17.0" fill="#ff0000"/>
<line x1="1003.0" y1="1430.4" x2="1003.0" y2="1484.0" stroke="#ff0000" stroke-width="3.5"/>
<rect x="994.5" y="1428.2" width="17.0" height="4.5" fill="#ff0000"/>
<rect x="994.5" y="1481.8" width="17.0" height="4.5" fill="#ff0000"/>
<rect x="994.5" y="1451.8" width="17.0" height="17.0" fill="#ff0000"/>
<line x1="1035.1" y1="1442.7" x2="1035.1" y2="1479.4" stroke="#ff0000" stroke-width="3.5"/>
<rect x="1026.6" y="1440.5" width="17.0" height="4.5" fill="#ff0000"/>
<rect x="1026.6" y="1477.2" width="17.0" height="4.5" fill="#ff0000"/>
<rect x="1026.6" y="1451.8" width="17.0" height="17.0" fill="#ff0000"/>
<line x1="1067.5" y1="1395.0" x2="1067.5" y2="1486.2" stroke="#ff0000" stroke-width="3.5"/>
<rect x="1059.0" y="1392.8" width="17.0" height="4.5" fill="#ff0000"/>
<rect x="1059.0" y="1484.0" width="17.0" height="4.5" fill="#ff0000"/>
<rect x="1059.0" y="1430.1" width="17.0" height="17.0" fill="#ff0000"/>
<line x1="1099.6" y1="1445.4" x2="1099.6" y2="1494.4" stroke="#ff0000" stroke-width="3.5"/>
<rect x="1091.1" y="1443.2" width="17.0" height="4.5" fill="#ff0000"/>
<rect x="1091.1" y="1492.2" width="17.0" height="4.5" fill="#ff0000"/>
<rect x="1091.1" y="1457.3" width="17.0" height="17.0" fill="#ff0000"/>
<line x1="1132.2" y1="1459.0" x2="1132.2" y2="1495.7" stroke="#ff0000" stroke-width="3.5"/>
<rect x="1123.7" y="1456.8" width="17.0" height="4.5" fill="#ff0000"/>
<rect x="1123.7" y="1493.5" width="17.0" height="4.5" fill="#ff0000"/>
<rect x="1123.7" y="1469.5" width="17.0" height="17.0" fill="#ff0000"/>
<line x1="1164.9" y1="1398.6" x2="1164.9" y2="1487.6" stroke="#ff0000" stroke-width="3.5"/>
<rect x="1156.4" y="1396.3" width="17.0" height="4.5" fill="#ff0000"/>
<rect x="1156.4" y="1485.3" width="17.0" height="4.5" fill="#ff0000"/>
<rect x="1156.4" y="1436.9" width="17.0" height="17.0" fill="#ff0000"/>
<line x1="1197.6" y1="1384.1" x2="1197.6" y2="1456.3" stroke="#ff0000" stroke-width="3.5"/>
<rect x="1189.1" y="1381.8" width="17.0" height="4.5" fill="#ff0000"/>
<rect x="1189.1" y="1454.0" width="17.0" height="4.5" fill="#ff0000"/>
<rect x="1189.1" y="1408.3" width="17.0" height="17.0" fill="#ff0000"/>
<line x1="743.3" y1="1420.0" x2="743.3" y2="1462.7" stroke="#808080" stroke-width="5"/>
<rect x="734.8" y="1417.0" width="17.0" height="6.0" fill="#808080"/>
<rect x="734.8" y="1459.7" width="17.0" height="6.0" fill="#808080"/>
<polygon points="734.8,1451.5 751.8,1451.5 743.3,1436.5" fill="#808080"/>
<line x1="775.9" y1="1354.7" x2="775.9" y2="1436.0" stroke="#808080" stroke-width="6"/>
<rect x="767.4" y="1351.7" width="17.0" height="6.0" fill="#808080"/>
<rect x="767.4" y="1433.0" width="17.0" height="6.0" fill="#808080"/>
<polygon points="767.4,1407.5 784.4,1407.5 775.9,1392.5" fill="#808080"/>
<line x1="807.9" y1="1404.0" x2="807.9" y2="1453.3" stroke="#808080" stroke-width="4"/>
<rect x="799.4" y="1401.8" width="17.0" height="4.5" fill="#808080"/>
<rect x="799.4" y="1451.0" width="17.0" height="4.5" fill="#808080"/>
<polygon points="799.4,1436.8 816.4,1436.8 807.9,1421.8" fill="#808080"/>
<line x1="841.2" y1="1442.7" x2="841.2" y2="1473.3" stroke="#808080" stroke-width="4"/>
<rect x="832.7" y="1440.5" width="17.0" height="4.5" fill="#808080"/>
<rect x="832.7" y="1471.0" width="17.0" height="4.5" fill="#808080"/>
<polygon points="832.7,1460.8 849.7,1460.8 841.2,1445.8" fill="#808080"/>
<line x1="873.5" y1="1430.7" x2="873.5" y2="1472.0" stroke="#808080" stroke-width="4"/>
<rect x="865.0" y="1428.5" width="17.0" height="4.5" fill="#808080"/>
<rect x="865.0" y="1469.8" width="17.0" height="4.5" fill="#808080"/>
<polygon points="865.0,1459.5 882.0,1459.5 873.5,1444.5" fill="#808080"/>
<line x1="905.5" y1="1343.3" x2="905.5" y2="1442.7" stroke="#808080" stroke-width="3.5"/>
<rect x="897.0" y="1341.0" width="17.0" height="4.5" fill="#808080"/>
<rect x="897.0" y="1440.5" width="17.0" height="4.5" fill="#808080"/>
<polygon points="897.0,1402.5 914.0,1402.5 905.5,1387.5" fill="#808080"/>
<line x1="937.6" y1="1233.1" x2="937.6" y2="1369.7" stroke="#808080" stroke-width="3.5"/>
<rect x="929.1" y="1230.8" width="17.0" height="4.5" fill="#808080"/>
<rect x="929.1" y="1367.5" width="17.0" height="4.5" fill="#808080"/>
<polygon points="929.1,1311.3 946.1,1311.3 937.6,1296.3" fill="#808080"/>
<line x1="969.7" y1="1322.1" x2="969.7" y2="1432.6" stroke="#808080" stroke-width="5.5"/>
<rect x="961.2" y="1319.1" width="17.0" height="6.0" fill="#808080"/>
<rect x="961.2" y="1429.6" width="17.0" height="6.0" fill="#808080"/>
<polygon points="961.2,1388.9 978.2,1388.9 969.7,1373.9" fill="#808080"/>
<line x1="1003.0" y1="1382.8" x2="1003.0" y2="1456.3" stroke="#808080" stroke-width="6"/>
<rect x="994.5" y="1379.8" width="17.0" height="6.0" fill="#808080"/>
<rect x="994.5" y="1453.3" width="17.0" height="6.0" fill="#808080"/>
<polygon points="994.5,1432.5 1011.5,1432.5 1003.0,1417.5" fill="#808080"/>
<line x1="1035.1" y1="1370.5" x2="1035.1" y2="1452.2" stroke="#808080" stroke-width="6"/>
<rect x="1026.6" y="1367.5" width="17.0" height="6.0" fill="#808080"/>
<rect x="1026.6" y="1449.2" width="17.0" height="6.0" fill="#808080"/>
<polygon points="1026.6,1422.9 1043.6,1422.9 1035.1,1407.9" fill="#808080"/>
<line x1="1067.5" y1="1373.8" x2="1067.5" y2="1463.0" stroke="#808080" stroke-width="6"/>
<rect x="1059.0" y="1370.8" width="17.0" height="6.0" fill="#808080"/>
<rect x="1059.0" y="1460.0" width="17.0" height="6.0" fill="#808080"/>
<polygon points="1059.0,1429.7 1076.0,1429.7 1067.5,1414.7" fill="#808080"/>
<line x1="1099.6" y1="1386.0" x2="1099.6" y2="1473.4" stroke="#808080" stroke-width="6"/>
<rect x="1091.1" y="1383.0" width="17.0" height="6.0" fill="#808080"/>
<rect x="1091.1" y="1470.4" width="17.0" height="6.0" fill="#808080"/>
<polygon points="1091.1,1440.6 1108.1,1440.6 1099.6,1425.6" fill="#808080"/>
<line x1="1132.2" y1="1346.6" x2="1132.2" y2="1445.4" stroke="#808080" stroke-width="6"/>
<rect x="1123.7" y="1343.6" width="17.0" height="6.0" fill="#808080"/>
<rect x="1123.7" y="1442.4" width="17.0" height="6.0" fill="#808080"/>
<polygon points="1123.7,1408.0 1140.7,1408.0 1132.2,1393.0" fill="#808080"/>
<line x1="1164.9" y1="1261.7" x2="1164.9" y2="1429.0" stroke="#808080" stroke-width="3.5"/>
<rect x="1156.4" y="1259.5" width="17.0" height="4.5" fill="#808080"/>
<rect x="1156.4" y="1426.8" width="17.0" height="4.5" fill="#808080"/>
<polygon points="1156.4,1356.3 1173.4,1356.3 1164.9,1341.3" fill="#808080"/>
<line x1="1197.6" y1="1420.9" x2="1197.6" y2="1465.8" stroke="#808080" stroke-width="3.5"/>
<rect x="1189.1" y="1418.7" width="17.0" height="4.5" fill="#808080"/>
<rect x="1189.1" y="1463.5" width="17.0" height="4.5" fill="#808080"/>
<polygon points="1189.1,1452.9 1206.1,1452.9 1197.6,1437.9" fill="#808080"/>
<polygon points="495.7,1702.0 512.7,1702.0 504.2,1686.0" fill="#000"/>
<text x="526.5" y="1705.0" font-size="26" font-weight="normal" text-anchor="middle" fill="#6a5a7a" stroke="#6a5a7a" stroke-width="0.6">/</text>
<polygon points="537.2,1702.0 554.2,1702.0 545.7,1686.0" fill="#808080"/>
<text x="581.5" y="1702.0" font-size="26" font-weight="normal" text-anchor="start" fill="#000" textLength="128" lengthAdjust="spacingAndGlyphs" stroke="#000" stroke-width="0.5">Trials 1-30</text>
<rect x="537.5" y="1731.0" width="17.5" height="16.0" fill="#ff0000"/>
<text x="584.0" y="1748.5" font-size="26" font-weight="normal" text-anchor="start" fill="#000" textLength="145" lengthAdjust="spacingAndGlyphs" stroke="#000" stroke-width="0.5">Trials 31-60</text>
<circle cx="546.4" cy="1782.9" r="8.5" fill="#0000c0"/>
<text x="584.0" y="1792.0" font-size="26" font-weight="normal" text-anchor="start" fill="#000" textLength="145" lengthAdjust="spacingAndGlyphs" stroke="#000" stroke-width="0.5">Trials 61-90</text>
</g></svg></body></html>
